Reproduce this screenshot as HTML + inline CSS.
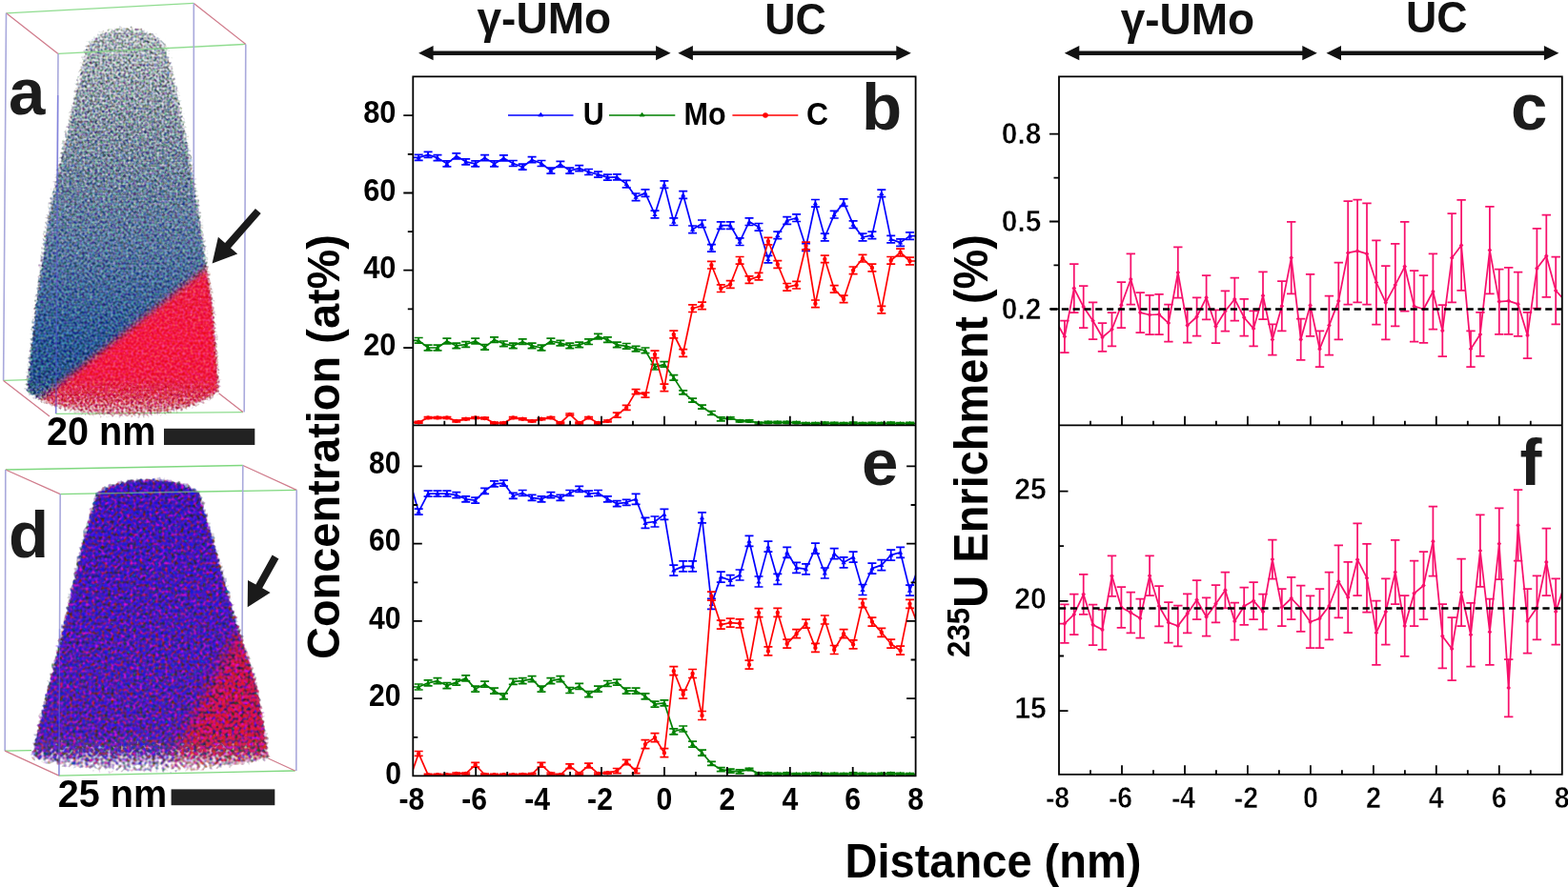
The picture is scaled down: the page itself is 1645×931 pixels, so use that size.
<!DOCTYPE html>
<html lang="en"><head><meta charset="utf-8"><title>Figure</title>
<style>
html,body{margin:0;padding:0;background:#fff;}
body{width:1645px;height:931px;overflow:hidden;}
svg{display:block;font-family:"Liberation Sans", Arial, Helvetica, sans-serif;font-weight:bold;}
</style></head><body>
<svg width="1645" height="931" viewBox="0 0 1645 931">
<rect width="1645" height="931" fill="#fff"/>
<defs>
<clipPath id="cb"><rect x="433.3" y="80.3" width="527.3" height="366.0"/></clipPath>
<clipPath id="ce"><rect x="433.3" y="446.3" width="527.3" height="368.09999999999997"/></clipPath>
<clipPath id="cc"><rect x="1111.0" y="80.3" width="527.8" height="366.0"/></clipPath>
<clipPath id="cf"><rect x="1111.0" y="446.3" width="527.8" height="366.49999999999994"/></clipPath>
</defs>

<defs>
<filter id="grainA" x="0" y="0" width="330" height="470" filterUnits="userSpaceOnUse" color-interpolation-filters="sRGB">
  <feTurbulence type="fractalNoise" baseFrequency="0.37" numOctaves="1" seed="7" result="n"/>
  <feColorMatrix in="n" type="matrix" values="1.155 0.945 0.000 0 -0.590  1.575 0.000 0.525 0 -0.590  1.260 0.000 -0.840 0 0.250  0 0 0 0 1" result="cn"/>
  <feBlend in="cn" in2="SourceGraphic" mode="soft-light" result="col"/>
  <feTurbulence type="fractalNoise" baseFrequency="0.4" numOctaves="1" seed="23" result="n2"/>
  <feColorMatrix in="n2" type="matrix" values="0 0 0 0 0  0 0 0 0 0  0 0 0 0 0  1 0 0 0 0" result="an"/>
  <feColorMatrix in="SourceGraphic" type="matrix" values="0 0 0 0 0  0 0 0 0 0  0 0 0 0 0  0 0 0 1 0" result="sa"/>
  <feComposite in="sa" in2="an" operator="arithmetic" k1="0" k2="1.9" k3="1.9" k4="-1.4" result="mask0"/>
  <feColorMatrix in="sa" type="matrix" values="0 0 0 0 0  0 0 0 0 0  0 0 0 0 0  0 0 0 6 0" result="sab"/>
  <feComposite in="mask0" in2="sab" operator="in" result="mask"/>
  <feComposite in="col" in2="mask" operator="in" result="out"/>
  <feGaussianBlur in="out" stdDeviation="0.6"/>
</filter>
<filter id="grainD" x="0" y="470" width="330" height="400" filterUnits="userSpaceOnUse" color-interpolation-filters="sRGB">
  <feTurbulence type="fractalNoise" baseFrequency="0.3" numOctaves="1" seed="11" result="n"/>
  <feColorMatrix in="n" type="matrix" values="0.000 1.250 -0.300 0 -0.015  0.000 -0.200 0.800 0 0.060  0.900 -0.350 -0.900 0 0.645  0 0 0 0 1" result="cn"/>
  <feBlend in="cn" in2="SourceGraphic" mode="hard-light" result="col"/>
  <feTurbulence type="fractalNoise" baseFrequency="0.3" numOctaves="1" seed="5" result="n2"/>
  <feColorMatrix in="n2" type="matrix" values="0 0 0 0 0  0 0 0 0 0  0 0 0 0 0  1 0 0 0 0" result="an"/>
  <feColorMatrix in="SourceGraphic" type="matrix" values="0 0 0 0 0  0 0 0 0 0  0 0 0 0 0  0 0 0 1 0" result="sa"/>
  <feComposite in="sa" in2="an" operator="arithmetic" k1="0" k2="2.2" k3="2.2" k4="-1.7000000000000002" result="mask0"/>
  <feColorMatrix in="sa" type="matrix" values="0 0 0 0 0  0 0 0 0 0  0 0 0 0 0  0 0 0 6 0" result="sab"/>
  <feComposite in="mask0" in2="sab" operator="in" result="mask"/>
  <feComposite in="col" in2="mask" operator="in" result="out"/>
  <feGaussianBlur in="out" stdDeviation="0.7"/>
</filter>
<filter id="soft" x="-20%" y="-20%" width="140%" height="140%"><feGaussianBlur stdDeviation="3.5"/></filter>
<filter id="soft2" x="-30%" y="-30%" width="160%" height="160%"><feGaussianBlur stdDeviation="7"/></filter>
<filter id="edge" x="-10%" y="-10%" width="120%" height="120%"><feGaussianBlur stdDeviation="2.2"/></filter>
<linearGradient id="gA" x1="0" y1="28" x2="0" y2="440" gradientUnits="userSpaceOnUse">
  <stop offset="0" stop-color="#8298a8"/>
  <stop offset="0.25" stop-color="#748ca6"/>
  <stop offset="0.55" stop-color="#587aa6"/>
  <stop offset="0.8" stop-color="#2f5e9a"/>
  <stop offset="1" stop-color="#24528c"/>
</linearGradient>
<linearGradient id="mgA" x1="0" y1="28" x2="0" y2="440" gradientUnits="userSpaceOnUse">
  <stop offset="0" stop-color="#fff" stop-opacity="0.56"/>
  <stop offset="0.25" stop-color="#fff" stop-opacity="0.72"/>
  <stop offset="0.55" stop-color="#fff" stop-opacity="0.90"/>
  <stop offset="0.80" stop-color="#fff" stop-opacity="1"/>
  <stop offset="0.89" stop-color="#fff" stop-opacity="0.98"/>
  <stop offset="0.95" stop-color="#fff" stop-opacity="0.74"/>
  <stop offset="1" stop-color="#fff" stop-opacity="0.45"/>
</linearGradient>
<linearGradient id="gD" x1="0" y1="503" x2="0" y2="810" gradientUnits="userSpaceOnUse">
  <stop offset="0" stop-color="#4420c4"/>
  <stop offset="0.5" stop-color="#5026c0"/>
  <stop offset="1" stop-color="#5a2cb8"/>
</linearGradient>
<linearGradient id="mgD" x1="0" y1="503" x2="0" y2="812" gradientUnits="userSpaceOnUse">
  <stop offset="0" stop-color="#fff" stop-opacity="1"/>
  <stop offset="0.86" stop-color="#fff" stop-opacity="1"/>
  <stop offset="0.93" stop-color="#fff" stop-opacity="0.7"/>
  <stop offset="1" stop-color="#fff" stop-opacity="0.3"/>
</linearGradient>
<mask id="mA" maskUnits="userSpaceOnUse" x="0" y="0" width="330" height="470"><path d="M27.5,411 C50,430 95,438.5 137,437.5 C180,436.5 215,426 230.3,410 L223.4,320 L209.7,228.7 L199,160 L187.3,103 L177,56 C173,38 152,28.4 132,28.4 C112,28.4 92,38 88,56 L77.3,103 L64.5,160 L49.8,228.7 L37,320 Z" fill="url(#mgA)" filter="url(#edge)"/></mask>
<mask id="mD" maskUnits="userSpaceOnUse" x="0" y="470" width="330" height="400"><path d="M31.9,796 C70,808 120,812 160,811.5 C210,811 255,805 283.5,796 L269,717 L247.5,650 L229,585 L210,518 C200,508 180,503 158,503 C135,503 112,508 101,518 L86,570 L68,650 Z" fill="url(#mgD)" filter="url(#edge)"/></mask>
</defs>
<g fill="none" stroke-width="1.3">
<path d="M6.5,13.8L203.3,3.4M61,56.4L257.8,46.4" stroke="#8fdc8f"/>
<path d="M6.5,13.8L61,56.4M203.3,3.4L257.8,46.4" stroke="#d07c8c"/>
<path d="M6.5,13.8L3.6,399.4M61,56.4L58.6,434.3M203.3,3.4L203.3,300M257.8,46.4L256.2,432.6" stroke="#a9a9dc" stroke-width="1.6"/>
<path d="M3.6,399.4L30,398.6M58.6,434.3L254.9,432.6" stroke="#8fdc8f"/>
<path d="M3.6,399.4L52,437M229.5,412.8L254.9,432.6" stroke="#d07c8c"/>
</g>
<g filter="url(#grainA)"><g mask="url(#mA)">
<rect x="0" y="0" width="330" height="470" fill="url(#gA)"/>
<path d="M236,265.8 L20,436.6 L20,470 L300,470 L300,265.8Z" fill="#f41c48" filter="url(#soft)"/>
</g></g>
<path d="M88,55L177,50.5" stroke="#8fdc8f" stroke-width="1.3" opacity="0.7" fill="none"/><path d="M203.3,105L203.3,230" stroke="#a9a9dc" stroke-width="1.4" opacity="0.4" fill="none"/><path d="M60.7,100L58.7,434" stroke="#5c5cdc" stroke-width="1.5" opacity="0.5" fill="none"/>
<path d="M267.9,218.9 L236.1,255.1 L228.9,248.8 L222.6,276.5 L249.2,266.6 L242.0,260.3 L273.7,224.1Z" fill="#1a1a1a"/>
<g fill="none" stroke-width="1.3">
<path d="M5.8,493L254.8,488.5M63.2,518.6L311.2,514.3" stroke="#7fd87f"/>
<path d="M5.8,493L63.2,518.6M254.8,488.5L311.2,514.3" stroke="#d07c8c"/>
<path d="M5.8,493L5.2,788.2M63.2,518.6L61.9,814.2M254.8,488.5L254,690M311.2,514.3L310.8,809" stroke="#a9a9dc" stroke-width="1.6"/>
<path d="M5.2,788.2L33,787.6M61.9,814.2L309.6,809" stroke="#7fd87f"/>
<path d="M5.2,788.2L61.9,814.2M281.3,796L309.6,809" stroke="#d07c8c"/>
</g>
<g filter="url(#grainD)"><g mask="url(#mD)">
<rect x="0" y="470" width="330" height="400" fill="url(#gD)"/>
<path d="M250,662 L178,800 L178,830 L320,830 L320,662Z" fill="#de1c4c" opacity="0.86" filter="url(#soft2)"/>
</g></g>
<path d="M101,518L210,516" stroke="#7fd87f" stroke-width="1.3" opacity="0.6" fill="none"/><path d="M62.6,660L61.9,814" stroke="#7070e0" stroke-width="1.5" opacity="0.45" fill="none"/>
<path d="M285.6,582.6 L268.4,613.5 L260.0,608.9 L259.7,637.3 L283.6,622.0 L275.2,617.3 L292.4,586.4Z" fill="#1a1a1a"/>
<g stroke="#008000" fill="none" stroke-width="1.7" stroke-linejoin="round" clip-path="url(#cb)">
<path d="M429.3,357.3 L439.2,357.3 L449.1,365.0 L459.0,365.0 L468.9,358.0 L478.8,362.9 L488.8,361.5 L498.7,358.0 L508.6,364.3 L518.5,356.6 L528.4,360.8 L538.3,362.9 L548.2,358.7 L558.1,362.9 L568.0,365.0 L577.9,358.0 L587.9,360.1 L597.8,362.9 L607.7,361.9 L617.6,358.7 L627.5,353.1 L637.4,356.6 L647.3,361.9 L657.2,363.3 L667.1,366.1 L677.0,367.8 L687.0,385.2 L696.9,382.4 L706.8,396.4 L716.7,411.8 L726.6,420.2 L736.5,427.2 L746.4,433.5 L756.3,439.8 L766.2,438.8 L776.1,441.9 L786.0,441.9 L796.0,444.0 L805.9,443.3 L815.8,443.3 L825.7,443.3 L835.6,443.5 L845.5,444.7 L855.4,444.7 L865.3,444.0 L875.2,444.4 L885.1,444.7 L895.1,444.1 L905.0,444.7 L914.9,444.4 L924.8,444.7 L934.7,444.2 L944.6,444.7 L954.5,444.4 L964.4,444.4"/>
<path d="M439.2,354.5V360.1M434.7,354.5h9.0M434.7,360.1h9.0M449.1,362.2V367.8M444.6,362.2h9.0M444.6,367.8h9.0M459.0,362.2V367.8M454.5,362.2h9.0M454.5,367.8h9.0M468.9,355.2V360.8M464.4,355.2h9.0M464.4,360.8h9.0M478.8,360.1V365.7M474.3,360.1h9.0M474.3,365.7h9.0M488.8,358.7V364.3M484.2,358.7h9.0M484.2,364.3h9.0M498.7,355.2V360.8M494.2,355.2h9.0M494.2,360.8h9.0M508.6,361.5V367.1M504.1,361.5h9.0M504.1,367.1h9.0M518.5,353.8V359.4M514.0,353.8h9.0M514.0,359.4h9.0M528.4,358.0V363.6M523.9,358.0h9.0M523.9,363.6h9.0M538.3,360.1V365.7M533.8,360.1h9.0M533.8,365.7h9.0M548.2,355.9V361.5M543.7,355.9h9.0M543.7,361.5h9.0M558.1,360.1V365.7M553.6,360.1h9.0M553.6,365.7h9.0M568.0,362.2V367.8M563.5,362.2h9.0M563.5,367.8h9.0M577.9,355.2V360.8M573.4,355.2h9.0M573.4,360.8h9.0M587.9,357.3V362.9M583.4,357.3h9.0M583.4,362.9h9.0M597.8,360.1V365.7M593.3,360.1h9.0M593.3,365.7h9.0M607.7,359.1V364.7M603.2,359.1h9.0M603.2,364.7h9.0M617.6,355.9V361.5M613.1,355.9h9.0M613.1,361.5h9.0M627.5,350.3V355.9M623.0,350.3h9.0M623.0,355.9h9.0M637.4,353.8V359.4M632.9,353.8h9.0M632.9,359.4h9.0M647.3,359.1V364.7M642.8,359.1h9.0M642.8,364.7h9.0M657.2,360.5V366.1M652.7,360.5h9.0M652.7,366.1h9.0M667.1,363.3V368.9M662.6,363.3h9.0M662.6,368.9h9.0M677.0,365.0V370.6M672.5,365.0h9.0M672.5,370.6h9.0M687.0,382.4V388.0M682.5,382.4h9.0M682.5,388.0h9.0M696.9,379.6V385.2M692.4,379.6h9.0M692.4,385.2h9.0M706.8,393.6V399.2M702.3,393.6h9.0M702.3,399.2h9.0M716.7,409.8V413.8M712.2,409.8h9.0M712.2,413.8h9.0M726.6,418.2V422.2M722.1,418.2h9.0M722.1,422.2h9.0M736.5,425.2V429.2M732.0,425.2h9.0M732.0,429.2h9.0M746.4,431.5V435.5M741.9,431.5h9.0M741.9,435.5h9.0M756.3,437.8V441.8M751.8,437.8h9.0M751.8,441.8h9.0M766.2,437.8V439.8M761.7,437.8h9.0M761.7,439.8h9.0M776.1,440.9V442.9M771.6,440.9h9.0M771.6,442.9h9.0M786.0,440.9V442.9M781.5,440.9h9.0M781.5,442.9h9.0M796.0,443.0V445.0M791.5,443.0h9.0M791.5,445.0h9.0M805.9,442.3V444.3M801.4,442.3h9.0M801.4,444.3h9.0M815.8,442.3V444.3M811.3,442.3h9.0M811.3,444.3h9.0M825.7,442.3V444.3M821.2,442.3h9.0M821.2,444.3h9.0M835.6,442.5V444.5M831.1,442.5h9.0M831.1,444.5h9.0M845.5,443.7V445.7M841.0,443.7h9.0M841.0,445.7h9.0M855.4,443.7V445.7M850.9,443.7h9.0M850.9,445.7h9.0M865.3,443.0V445.0M860.8,443.0h9.0M860.8,445.0h9.0M875.2,443.4V445.4M870.7,443.4h9.0M870.7,445.4h9.0M885.1,443.7V445.7M880.6,443.7h9.0M880.6,445.7h9.0M895.1,443.1V445.1M890.6,443.1h9.0M890.6,445.1h9.0M905.0,443.7V445.7M900.5,443.7h9.0M900.5,445.7h9.0M914.9,443.4V445.4M910.4,443.4h9.0M910.4,445.4h9.0M924.8,443.7V445.7M920.3,443.7h9.0M920.3,445.7h9.0M934.7,443.2V445.2M930.2,443.2h9.0M930.2,445.2h9.0M944.6,443.7V445.7M940.1,443.7h9.0M940.1,445.7h9.0M954.5,443.4V445.4M950.0,443.4h9.0M950.0,445.4h9.0"/>
<path d="M436.6,359.3L439.2,354.7L441.8,359.3ZM446.5,367.0L449.1,362.4L451.7,367.0ZM456.4,367.0L459.0,362.4L461.6,367.0ZM466.3,360.0L468.9,355.4L471.5,360.0ZM476.2,364.9L478.8,360.3L481.4,364.9ZM486.1,363.5L488.8,358.9L491.4,363.5ZM496.1,360.0L498.7,355.4L501.3,360.0ZM506.0,366.3L508.6,361.7L511.2,366.3ZM515.9,358.6L518.5,354.0L521.1,358.6ZM525.8,362.8L528.4,358.2L531.0,362.8ZM535.7,364.9L538.3,360.3L540.9,364.9ZM545.6,360.7L548.2,356.1L550.8,360.7ZM555.5,364.9L558.1,360.3L560.7,364.9ZM565.4,367.0L568.0,362.4L570.6,367.0ZM575.3,360.0L577.9,355.4L580.5,360.0ZM585.2,362.1L587.9,357.5L590.5,362.1ZM595.2,364.9L597.8,360.3L600.4,364.9ZM605.1,363.9L607.7,359.3L610.3,363.9ZM615.0,360.7L617.6,356.1L620.2,360.7ZM624.9,355.1L627.5,350.5L630.1,355.1ZM634.8,358.6L637.4,354.0L640.0,358.6ZM644.7,363.9L647.3,359.3L649.9,363.9ZM654.6,365.3L657.2,360.7L659.8,365.3ZM664.5,368.1L667.1,363.5L669.7,368.1ZM674.4,369.8L677.0,365.2L679.6,369.8ZM684.4,387.2L687.0,382.6L689.6,387.2ZM694.3,384.4L696.9,379.8L699.5,384.4ZM704.2,398.4L706.8,393.8L709.4,398.4ZM714.1,413.8L716.7,409.2L719.3,413.8ZM724.0,422.2L726.6,417.6L729.2,422.2ZM733.9,429.2L736.5,424.6L739.1,429.2ZM743.8,435.5L746.4,430.9L749.0,435.5ZM753.7,441.8L756.3,437.2L758.9,441.8ZM763.6,440.8L766.2,436.2L768.8,440.8ZM773.5,443.9L776.1,439.3L778.7,443.9ZM783.4,443.9L786.0,439.3L788.6,443.9ZM793.4,446.0L796.0,441.4L798.6,446.0ZM803.3,445.3L805.9,440.7L808.5,445.3ZM813.2,445.3L815.8,440.7L818.4,445.3ZM823.1,445.3L825.7,440.7L828.3,445.3ZM833.0,445.5L835.6,440.9L838.2,445.5ZM842.9,446.7L845.5,442.1L848.1,446.7ZM852.8,446.7L855.4,442.1L858.0,446.7ZM862.7,446.0L865.3,441.4L867.9,446.0ZM872.6,446.4L875.2,441.8L877.8,446.4ZM882.5,446.7L885.1,442.1L887.8,446.7ZM892.5,446.1L895.1,441.5L897.7,446.1ZM902.4,446.7L905.0,442.1L907.6,446.7ZM912.3,446.4L914.9,441.8L917.5,446.4ZM922.2,446.7L924.8,442.1L927.4,446.7ZM932.1,446.2L934.7,441.6L937.3,446.2ZM942.0,446.7L944.6,442.1L947.2,446.7ZM951.9,446.4L954.5,441.8L957.1,446.4Z" fill="#008000" stroke="none"/>
</g>
<g stroke="#0000ff" fill="none" stroke-width="1.7" stroke-linejoin="round" clip-path="url(#cb)">
<path d="M429.3,165.4 L439.2,165.4 L449.1,162.4 L459.0,165.6 L468.9,171.9 L478.8,163.8 L488.8,169.8 L498.7,171.9 L508.6,165.6 L518.5,171.9 L528.4,165.9 L538.3,171.5 L548.2,175.2 L558.1,167.7 L568.0,171.5 L577.9,179.1 L587.9,172.4 L597.8,179.1 L607.7,176.6 L617.6,180.5 L627.5,183.1 L637.4,186.1 L647.3,185.9 L657.2,193.1 L667.1,206.8 L677.0,202.6 L687.0,225.0 L696.9,193.6 L706.8,232.7 L716.7,204.5 L726.6,240.8 L736.5,234.8 L746.4,260.4 L756.3,236.6 L766.2,236.6 L776.1,253.7 L786.0,232.7 L796.0,238.3 L805.9,272.1 L815.8,246.9 L825.7,231.5 L835.6,228.7 L845.5,259.5 L855.4,213.3 L865.3,249.0 L875.2,225.2 L885.1,212.6 L895.1,235.7 L905.0,249.0 L914.9,246.9 L924.8,202.9 L934.7,251.1 L944.6,254.6 L954.5,247.6 L964.4,247.6"/>
<path d="M439.2,162.4V168.4M434.7,162.4h9.0M434.7,168.4h9.0M449.1,159.4V165.4M444.6,159.4h9.0M444.6,165.4h9.0M459.0,162.6V168.6M454.5,162.6h9.0M454.5,168.6h9.0M468.9,168.9V174.9M464.4,168.9h9.0M464.4,174.9h9.0M478.8,160.8V166.8M474.3,160.8h9.0M474.3,166.8h9.0M488.8,166.8V172.8M484.2,166.8h9.0M484.2,172.8h9.0M498.7,168.9V174.9M494.2,168.9h9.0M494.2,174.9h9.0M508.6,162.6V168.6M504.1,162.6h9.0M504.1,168.6h9.0M518.5,168.9V174.9M514.0,168.9h9.0M514.0,174.9h9.0M528.4,162.9V168.9M523.9,162.9h9.0M523.9,168.9h9.0M538.3,168.5V174.5M533.8,168.5h9.0M533.8,174.5h9.0M548.2,172.2V178.2M543.7,172.2h9.0M543.7,178.2h9.0M558.1,164.7V170.7M553.6,164.7h9.0M553.6,170.7h9.0M568.0,168.5V174.5M563.5,168.5h9.0M563.5,174.5h9.0M577.9,176.1V182.1M573.4,176.1h9.0M573.4,182.1h9.0M587.9,169.4V175.4M583.4,169.4h9.0M583.4,175.4h9.0M597.8,176.1V182.1M593.3,176.1h9.0M593.3,182.1h9.0M607.7,173.6V179.6M603.2,173.6h9.0M603.2,179.6h9.0M617.6,177.5V183.5M613.1,177.5h9.0M613.1,183.5h9.0M627.5,180.1V186.1M623.0,180.1h9.0M623.0,186.1h9.0M637.4,183.1V189.1M632.9,183.1h9.0M632.9,189.1h9.0M647.3,182.9V188.9M642.8,182.9h9.0M642.8,188.9h9.0M657.2,189.3V196.9M652.7,189.3h9.0M652.7,196.9h9.0M667.1,203.0V210.6M662.6,203.0h9.0M662.6,210.6h9.0M677.0,198.8V206.4M672.5,198.8h9.0M672.5,206.4h9.0M687.0,221.2V228.8M682.5,221.2h9.0M682.5,228.8h9.0M696.9,189.8V197.4M692.4,189.8h9.0M692.4,197.4h9.0M706.8,228.9V236.5M702.3,228.9h9.0M702.3,236.5h9.0M716.7,200.7V208.3M712.2,200.7h9.0M712.2,208.3h9.0M726.6,237.0V244.6M722.1,237.0h9.0M722.1,244.6h9.0M736.5,231.0V238.6M732.0,231.0h9.0M732.0,238.6h9.0M746.4,256.6V264.2M741.9,256.6h9.0M741.9,264.2h9.0M756.3,232.8V240.4M751.8,232.8h9.0M751.8,240.4h9.0M766.2,232.8V240.4M761.7,232.8h9.0M761.7,240.4h9.0M776.1,249.9V257.5M771.6,249.9h9.0M771.6,257.5h9.0M786.0,228.9V236.5M781.5,228.9h9.0M781.5,236.5h9.0M796.0,234.5V242.1M791.5,234.5h9.0M791.5,242.1h9.0M805.9,268.3V275.9M801.4,268.3h9.0M801.4,275.9h9.0M815.8,243.1V250.7M811.3,243.1h9.0M811.3,250.7h9.0M825.7,227.7V235.3M821.2,227.7h9.0M821.2,235.3h9.0M835.6,224.9V232.5M831.1,224.9h9.0M831.1,232.5h9.0M845.5,255.7V263.3M841.0,255.7h9.0M841.0,263.3h9.0M855.4,209.5V217.1M850.9,209.5h9.0M850.9,217.1h9.0M865.3,245.2V252.8M860.8,245.2h9.0M860.8,252.8h9.0M875.2,221.4V229.0M870.7,221.4h9.0M870.7,229.0h9.0M885.1,208.8V216.4M880.6,208.8h9.0M880.6,216.4h9.0M895.1,231.9V239.5M890.6,231.9h9.0M890.6,239.5h9.0M905.0,245.2V252.8M900.5,245.2h9.0M900.5,252.8h9.0M914.9,243.1V250.7M910.4,243.1h9.0M910.4,250.7h9.0M924.8,199.1V206.7M920.3,199.1h9.0M920.3,206.7h9.0M934.7,247.3V254.9M930.2,247.3h9.0M930.2,254.9h9.0M944.6,250.8V258.4M940.1,250.8h9.0M940.1,258.4h9.0M954.5,243.8V251.4M950.0,243.8h9.0M950.0,251.4h9.0"/>
<path d="M436.6,167.4L439.2,162.8L441.8,167.4ZM446.5,164.4L449.1,159.8L451.7,164.4ZM456.4,167.6L459.0,163.0L461.6,167.6ZM466.3,173.9L468.9,169.3L471.5,173.9ZM476.2,165.8L478.8,161.2L481.4,165.8ZM486.1,171.8L488.8,167.2L491.4,171.8ZM496.1,173.9L498.7,169.3L501.3,173.9ZM506.0,167.6L508.6,163.0L511.2,167.6ZM515.9,173.9L518.5,169.3L521.1,173.9ZM525.8,167.9L528.4,163.3L531.0,167.9ZM535.7,173.5L538.3,168.9L540.9,173.5ZM545.6,177.2L548.2,172.6L550.8,177.2ZM555.5,169.7L558.1,165.1L560.7,169.7ZM565.4,173.5L568.0,168.9L570.6,173.5ZM575.3,181.1L577.9,176.5L580.5,181.1ZM585.2,174.4L587.9,169.8L590.5,174.4ZM595.2,181.1L597.8,176.5L600.4,181.1ZM605.1,178.6L607.7,174.0L610.3,178.6ZM615.0,182.5L617.6,177.9L620.2,182.5ZM624.9,185.1L627.5,180.5L630.1,185.1ZM634.8,188.1L637.4,183.5L640.0,188.1ZM644.7,187.9L647.3,183.3L649.9,187.9ZM654.6,195.1L657.2,190.5L659.8,195.1ZM664.5,208.8L667.1,204.2L669.7,208.8ZM674.4,204.6L677.0,200.0L679.6,204.6ZM684.4,227.0L687.0,222.4L689.6,227.0ZM694.3,195.6L696.9,191.0L699.5,195.6ZM704.2,234.7L706.8,230.1L709.4,234.7ZM714.1,206.5L716.7,201.9L719.3,206.5ZM724.0,242.8L726.6,238.2L729.2,242.8ZM733.9,236.8L736.5,232.2L739.1,236.8ZM743.8,262.4L746.4,257.8L749.0,262.4ZM753.7,238.6L756.3,234.0L758.9,238.6ZM763.6,238.6L766.2,234.0L768.8,238.6ZM773.5,255.7L776.1,251.1L778.7,255.7ZM783.4,234.7L786.0,230.1L788.6,234.7ZM793.4,240.3L796.0,235.7L798.6,240.3ZM803.3,274.1L805.9,269.5L808.5,274.1ZM813.2,248.9L815.8,244.3L818.4,248.9ZM823.1,233.5L825.7,228.9L828.3,233.5ZM833.0,230.7L835.6,226.1L838.2,230.7ZM842.9,261.5L845.5,256.9L848.1,261.5ZM852.8,215.3L855.4,210.7L858.0,215.3ZM862.7,251.0L865.3,246.4L867.9,251.0ZM872.6,227.2L875.2,222.6L877.8,227.2ZM882.5,214.6L885.1,210.0L887.8,214.6ZM892.5,237.7L895.1,233.1L897.7,237.7ZM902.4,251.0L905.0,246.4L907.6,251.0ZM912.3,248.9L914.9,244.3L917.5,248.9ZM922.2,204.9L924.8,200.3L927.4,204.9ZM932.1,253.1L934.7,248.5L937.3,253.1ZM942.0,256.6L944.6,252.0L947.2,256.6ZM951.9,249.6L954.5,245.0L957.1,249.6Z" fill="#0000ff" stroke="none"/>
</g>
<g stroke="#ff0000" fill="none" stroke-width="1.7" stroke-linejoin="round" clip-path="url(#cb)">
<path d="M429.3,443.3 L439.2,443.3 L449.1,438.4 L459.0,438.4 L468.9,438.4 L478.8,441.9 L488.8,439.8 L498.7,438.4 L508.6,439.1 L518.5,444.0 L528.4,444.0 L538.3,438.4 L548.2,439.8 L558.1,441.9 L568.0,439.8 L577.9,438.4 L587.9,444.0 L597.8,434.9 L607.7,444.0 L617.6,438.4 L627.5,444.0 L637.4,441.9 L647.3,435.6 L657.2,427.9 L667.1,411.1 L677.0,414.6 L687.0,371.9 L696.9,406.9 L706.8,351.0 L716.7,370.5 L726.6,323.7 L736.5,320.9 L746.4,278.2 L756.3,302.7 L766.2,298.5 L776.1,273.3 L786.0,293.6 L796.0,290.1 L805.9,253.1 L815.8,277.5 L825.7,301.3 L835.6,299.2 L845.5,258.0 L855.4,318.8 L865.3,271.9 L875.2,303.4 L885.1,313.9 L895.1,283.8 L905.0,271.2 L914.9,281.0 L924.8,325.1 L934.7,273.3 L944.6,265.0 L954.5,274.0 L964.4,274.0"/>
<path d="M439.2,442.4V444.2M434.7,442.4h9.0M434.7,444.2h9.0M449.1,437.5V439.3M444.6,437.5h9.0M444.6,439.3h9.0M459.0,437.5V439.3M454.5,437.5h9.0M454.5,439.3h9.0M468.9,437.5V439.3M464.4,437.5h9.0M464.4,439.3h9.0M478.8,441.0V442.8M474.3,441.0h9.0M474.3,442.8h9.0M488.8,438.9V440.7M484.2,438.9h9.0M484.2,440.7h9.0M498.7,437.5V439.3M494.2,437.5h9.0M494.2,439.3h9.0M508.6,438.2V440.0M504.1,438.2h9.0M504.1,440.0h9.0M518.5,443.1V444.9M514.0,443.1h9.0M514.0,444.9h9.0M528.4,443.1V444.9M523.9,443.1h9.0M523.9,444.9h9.0M538.3,437.5V439.3M533.8,437.5h9.0M533.8,439.3h9.0M548.2,438.9V440.7M543.7,438.9h9.0M543.7,440.7h9.0M558.1,441.0V442.8M553.6,441.0h9.0M553.6,442.8h9.0M568.0,438.9V440.7M563.5,438.9h9.0M563.5,440.7h9.0M577.9,437.5V439.3M573.4,437.5h9.0M573.4,439.3h9.0M587.9,443.1V444.9M583.4,443.1h9.0M583.4,444.9h9.0M597.8,434.0V435.8M593.3,434.0h9.0M593.3,435.8h9.0M607.7,443.1V444.9M603.2,443.1h9.0M603.2,444.9h9.0M617.6,437.5V439.3M613.1,437.5h9.0M613.1,439.3h9.0M627.5,443.1V444.9M623.0,443.1h9.0M623.0,444.9h9.0M637.4,441.0V442.8M632.9,441.0h9.0M632.9,442.8h9.0M647.3,433.1V438.1M642.8,433.1h9.0M642.8,438.1h9.0M657.2,425.4V430.4M652.7,425.4h9.0M652.7,430.4h9.0M667.1,408.6V413.6M662.6,408.6h9.0M662.6,413.6h9.0M677.0,412.1V417.1M672.5,412.1h9.0M672.5,417.1h9.0M687.0,368.1V375.7M682.5,368.1h9.0M682.5,375.7h9.0M696.9,403.1V410.7M692.4,403.1h9.0M692.4,410.7h9.0M706.8,347.2V354.8M702.3,347.2h9.0M702.3,354.8h9.0M716.7,366.7V374.3M712.2,366.7h9.0M712.2,374.3h9.0M726.6,319.9V327.5M722.1,319.9h9.0M722.1,327.5h9.0M736.5,317.1V324.7M732.0,317.1h9.0M732.0,324.7h9.0M746.4,274.4V282.0M741.9,274.4h9.0M741.9,282.0h9.0M756.3,298.9V306.5M751.8,298.9h9.0M751.8,306.5h9.0M766.2,294.7V302.3M761.7,294.7h9.0M761.7,302.3h9.0M776.1,269.5V277.1M771.6,269.5h9.0M771.6,277.1h9.0M786.0,289.8V297.4M781.5,289.8h9.0M781.5,297.4h9.0M796.0,286.3V293.9M791.5,286.3h9.0M791.5,293.9h9.0M805.9,249.3V256.9M801.4,249.3h9.0M801.4,256.9h9.0M815.8,273.7V281.3M811.3,273.7h9.0M811.3,281.3h9.0M825.7,297.5V305.1M821.2,297.5h9.0M821.2,305.1h9.0M835.6,295.4V303.0M831.1,295.4h9.0M831.1,303.0h9.0M845.5,254.2V261.8M841.0,254.2h9.0M841.0,261.8h9.0M855.4,315.0V322.6M850.9,315.0h9.0M850.9,322.6h9.0M865.3,268.1V275.7M860.8,268.1h9.0M860.8,275.7h9.0M875.2,299.6V307.2M870.7,299.6h9.0M870.7,307.2h9.0M885.1,310.1V317.7M880.6,310.1h9.0M880.6,317.7h9.0M895.1,280.0V287.6M890.6,280.0h9.0M890.6,287.6h9.0M905.0,267.4V275.0M900.5,267.4h9.0M900.5,275.0h9.0M914.9,277.2V284.8M910.4,277.2h9.0M910.4,284.8h9.0M924.8,321.3V328.9M920.3,321.3h9.0M920.3,328.9h9.0M934.7,269.5V277.1M930.2,269.5h9.0M930.2,277.1h9.0M944.6,261.2V268.8M940.1,261.2h9.0M940.1,268.8h9.0M954.5,270.2V277.8M950.0,270.2h9.0M950.0,277.8h9.0"/>
<path d="M437.0,443.3a2.2,2.2 0 1,0 4.4,0a2.2,2.2 0 1,0 -4.4,0ZM446.9,438.4a2.2,2.2 0 1,0 4.4,0a2.2,2.2 0 1,0 -4.4,0ZM456.8,438.4a2.2,2.2 0 1,0 4.4,0a2.2,2.2 0 1,0 -4.4,0ZM466.7,438.4a2.2,2.2 0 1,0 4.4,0a2.2,2.2 0 1,0 -4.4,0ZM476.6,441.9a2.2,2.2 0 1,0 4.4,0a2.2,2.2 0 1,0 -4.4,0ZM486.6,439.8a2.2,2.2 0 1,0 4.4,0a2.2,2.2 0 1,0 -4.4,0ZM496.5,438.4a2.2,2.2 0 1,0 4.4,0a2.2,2.2 0 1,0 -4.4,0ZM506.4,439.1a2.2,2.2 0 1,0 4.4,0a2.2,2.2 0 1,0 -4.4,0ZM516.3,444.0a2.2,2.2 0 1,0 4.4,0a2.2,2.2 0 1,0 -4.4,0ZM526.2,444.0a2.2,2.2 0 1,0 4.4,0a2.2,2.2 0 1,0 -4.4,0ZM536.1,438.4a2.2,2.2 0 1,0 4.4,0a2.2,2.2 0 1,0 -4.4,0ZM546.0,439.8a2.2,2.2 0 1,0 4.4,0a2.2,2.2 0 1,0 -4.4,0ZM555.9,441.9a2.2,2.2 0 1,0 4.4,0a2.2,2.2 0 1,0 -4.4,0ZM565.8,439.8a2.2,2.2 0 1,0 4.4,0a2.2,2.2 0 1,0 -4.4,0ZM575.7,438.4a2.2,2.2 0 1,0 4.4,0a2.2,2.2 0 1,0 -4.4,0ZM585.6,444.0a2.2,2.2 0 1,0 4.4,0a2.2,2.2 0 1,0 -4.4,0ZM595.6,434.9a2.2,2.2 0 1,0 4.4,0a2.2,2.2 0 1,0 -4.4,0ZM605.5,444.0a2.2,2.2 0 1,0 4.4,0a2.2,2.2 0 1,0 -4.4,0ZM615.4,438.4a2.2,2.2 0 1,0 4.4,0a2.2,2.2 0 1,0 -4.4,0ZM625.3,444.0a2.2,2.2 0 1,0 4.4,0a2.2,2.2 0 1,0 -4.4,0ZM635.2,441.9a2.2,2.2 0 1,0 4.4,0a2.2,2.2 0 1,0 -4.4,0ZM645.1,435.6a2.2,2.2 0 1,0 4.4,0a2.2,2.2 0 1,0 -4.4,0ZM655.0,427.9a2.2,2.2 0 1,0 4.4,0a2.2,2.2 0 1,0 -4.4,0ZM664.9,411.1a2.2,2.2 0 1,0 4.4,0a2.2,2.2 0 1,0 -4.4,0ZM674.8,414.6a2.2,2.2 0 1,0 4.4,0a2.2,2.2 0 1,0 -4.4,0ZM684.8,371.9a2.2,2.2 0 1,0 4.4,0a2.2,2.2 0 1,0 -4.4,0ZM694.7,406.9a2.2,2.2 0 1,0 4.4,0a2.2,2.2 0 1,0 -4.4,0ZM704.6,351.0a2.2,2.2 0 1,0 4.4,0a2.2,2.2 0 1,0 -4.4,0ZM714.5,370.5a2.2,2.2 0 1,0 4.4,0a2.2,2.2 0 1,0 -4.4,0ZM724.4,323.7a2.2,2.2 0 1,0 4.4,0a2.2,2.2 0 1,0 -4.4,0ZM734.3,320.9a2.2,2.2 0 1,0 4.4,0a2.2,2.2 0 1,0 -4.4,0ZM744.2,278.2a2.2,2.2 0 1,0 4.4,0a2.2,2.2 0 1,0 -4.4,0ZM754.1,302.7a2.2,2.2 0 1,0 4.4,0a2.2,2.2 0 1,0 -4.4,0ZM764.0,298.5a2.2,2.2 0 1,0 4.4,0a2.2,2.2 0 1,0 -4.4,0ZM773.9,273.3a2.2,2.2 0 1,0 4.4,0a2.2,2.2 0 1,0 -4.4,0ZM783.8,293.6a2.2,2.2 0 1,0 4.4,0a2.2,2.2 0 1,0 -4.4,0ZM793.8,290.1a2.2,2.2 0 1,0 4.4,0a2.2,2.2 0 1,0 -4.4,0ZM803.7,253.1a2.2,2.2 0 1,0 4.4,0a2.2,2.2 0 1,0 -4.4,0ZM813.6,277.5a2.2,2.2 0 1,0 4.4,0a2.2,2.2 0 1,0 -4.4,0ZM823.5,301.3a2.2,2.2 0 1,0 4.4,0a2.2,2.2 0 1,0 -4.4,0ZM833.4,299.2a2.2,2.2 0 1,0 4.4,0a2.2,2.2 0 1,0 -4.4,0ZM843.3,258.0a2.2,2.2 0 1,0 4.4,0a2.2,2.2 0 1,0 -4.4,0ZM853.2,318.8a2.2,2.2 0 1,0 4.4,0a2.2,2.2 0 1,0 -4.4,0ZM863.1,271.9a2.2,2.2 0 1,0 4.4,0a2.2,2.2 0 1,0 -4.4,0ZM873.0,303.4a2.2,2.2 0 1,0 4.4,0a2.2,2.2 0 1,0 -4.4,0ZM882.9,313.9a2.2,2.2 0 1,0 4.4,0a2.2,2.2 0 1,0 -4.4,0ZM892.9,283.8a2.2,2.2 0 1,0 4.4,0a2.2,2.2 0 1,0 -4.4,0ZM902.8,271.2a2.2,2.2 0 1,0 4.4,0a2.2,2.2 0 1,0 -4.4,0ZM912.7,281.0a2.2,2.2 0 1,0 4.4,0a2.2,2.2 0 1,0 -4.4,0ZM922.6,325.1a2.2,2.2 0 1,0 4.4,0a2.2,2.2 0 1,0 -4.4,0ZM932.5,273.3a2.2,2.2 0 1,0 4.4,0a2.2,2.2 0 1,0 -4.4,0ZM942.4,265.0a2.2,2.2 0 1,0 4.4,0a2.2,2.2 0 1,0 -4.4,0ZM952.3,274.0a2.2,2.2 0 1,0 4.4,0a2.2,2.2 0 1,0 -4.4,0Z" fill="#ff0000" stroke="none"/>
</g>
<g stroke="#008000" fill="none" stroke-width="1.7" stroke-linejoin="round" clip-path="url(#ce)">
<path d="M429.3,721.0 L439.2,721.0 L449.1,716.8 L459.0,714.7 L468.9,719.6 L478.8,716.1 L488.8,711.9 L498.7,723.1 L508.6,718.2 L518.5,725.2 L528.4,730.8 L538.3,715.4 L548.2,714.7 L558.1,712.6 L568.0,723.1 L577.9,714.7 L587.9,712.6 L597.8,724.5 L607.7,720.3 L617.6,728.7 L627.5,723.1 L637.4,717.5 L647.3,716.1 L657.2,725.2 L667.1,725.2 L677.0,730.8 L687.0,739.1 L696.9,737.8 L706.8,767.8 L716.7,765.0 L726.6,781.1 L736.5,790.2 L746.4,801.4 L756.3,807.7 L766.2,809.1 L776.1,809.8 L786.0,807.4 L796.0,811.9 L805.9,811.9 L815.8,812.3 L825.7,811.9 L835.6,812.6 L845.5,812.3 L855.4,811.9 L865.3,812.6 L875.2,812.3 L885.1,812.6 L895.1,811.9 L905.0,812.3 L914.9,812.6 L924.8,812.3 L934.7,811.9 L944.6,812.3 L954.5,812.6 L964.4,812.6"/>
<path d="M439.2,718.0V724.0M434.7,718.0h9.0M434.7,724.0h9.0M449.1,713.8V719.8M444.6,713.8h9.0M444.6,719.8h9.0M459.0,711.7V717.7M454.5,711.7h9.0M454.5,717.7h9.0M468.9,716.6V722.6M464.4,716.6h9.0M464.4,722.6h9.0M478.8,713.1V719.1M474.3,713.1h9.0M474.3,719.1h9.0M488.8,708.9V714.9M484.2,708.9h9.0M484.2,714.9h9.0M498.7,720.1V726.1M494.2,720.1h9.0M494.2,726.1h9.0M508.6,715.2V721.2M504.1,715.2h9.0M504.1,721.2h9.0M518.5,722.2V728.2M514.0,722.2h9.0M514.0,728.2h9.0M528.4,727.8V733.8M523.9,727.8h9.0M523.9,733.8h9.0M538.3,712.4V718.4M533.8,712.4h9.0M533.8,718.4h9.0M548.2,711.7V717.7M543.7,711.7h9.0M543.7,717.7h9.0M558.1,709.6V715.6M553.6,709.6h9.0M553.6,715.6h9.0M568.0,720.1V726.1M563.5,720.1h9.0M563.5,726.1h9.0M577.9,711.7V717.7M573.4,711.7h9.0M573.4,717.7h9.0M587.9,709.6V715.6M583.4,709.6h9.0M583.4,715.6h9.0M597.8,721.5V727.5M593.3,721.5h9.0M593.3,727.5h9.0M607.7,717.3V723.3M603.2,717.3h9.0M603.2,723.3h9.0M617.6,725.7V731.7M613.1,725.7h9.0M613.1,731.7h9.0M627.5,720.1V726.1M623.0,720.1h9.0M623.0,726.1h9.0M637.4,714.5V720.5M632.9,714.5h9.0M632.9,720.5h9.0M647.3,713.1V719.1M642.8,713.1h9.0M642.8,719.1h9.0M657.2,722.2V728.2M652.7,722.2h9.0M652.7,728.2h9.0M667.1,722.2V728.2M662.6,722.2h9.0M662.6,728.2h9.0M677.0,727.8V733.8M672.5,727.8h9.0M672.5,733.8h9.0M687.0,736.1V742.1M682.5,736.1h9.0M682.5,742.1h9.0M696.9,734.8V740.8M692.4,734.8h9.0M692.4,740.8h9.0M706.8,764.8V770.8M702.3,764.8h9.0M702.3,770.8h9.0M716.7,762.0V768.0M712.2,762.0h9.0M712.2,768.0h9.0M726.6,778.1V784.1M722.1,778.1h9.0M722.1,784.1h9.0M736.5,787.2V793.2M732.0,787.2h9.0M732.0,793.2h9.0M746.4,799.4V803.4M741.9,799.4h9.0M741.9,803.4h9.0M756.3,805.7V809.7M751.8,805.7h9.0M751.8,809.7h9.0M766.2,807.1V811.1M761.7,807.1h9.0M761.7,811.1h9.0M776.1,807.8V811.8M771.6,807.8h9.0M771.6,811.8h9.0M786.0,806.4V808.4M781.5,806.4h9.0M781.5,808.4h9.0M796.0,810.9V812.9M791.5,810.9h9.0M791.5,812.9h9.0M805.9,810.9V812.9M801.4,810.9h9.0M801.4,812.9h9.0M815.8,811.3V813.3M811.3,811.3h9.0M811.3,813.3h9.0M825.7,810.9V812.9M821.2,810.9h9.0M821.2,812.9h9.0M835.6,811.6V813.6M831.1,811.6h9.0M831.1,813.6h9.0M845.5,811.3V813.3M841.0,811.3h9.0M841.0,813.3h9.0M855.4,810.9V812.9M850.9,810.9h9.0M850.9,812.9h9.0M865.3,811.6V813.6M860.8,811.6h9.0M860.8,813.6h9.0M875.2,811.3V813.3M870.7,811.3h9.0M870.7,813.3h9.0M885.1,811.6V813.6M880.6,811.6h9.0M880.6,813.6h9.0M895.1,810.9V812.9M890.6,810.9h9.0M890.6,812.9h9.0M905.0,811.3V813.3M900.5,811.3h9.0M900.5,813.3h9.0M914.9,811.6V813.6M910.4,811.6h9.0M910.4,813.6h9.0M924.8,811.3V813.3M920.3,811.3h9.0M920.3,813.3h9.0M934.7,810.9V812.9M930.2,810.9h9.0M930.2,812.9h9.0M944.6,811.3V813.3M940.1,811.3h9.0M940.1,813.3h9.0M954.5,811.6V813.6M950.0,811.6h9.0M950.0,813.6h9.0"/>
<path d="M436.6,723.0L439.2,718.4L441.8,723.0ZM446.5,718.8L449.1,714.2L451.7,718.8ZM456.4,716.7L459.0,712.1L461.6,716.7ZM466.3,721.6L468.9,717.0L471.5,721.6ZM476.2,718.1L478.8,713.5L481.4,718.1ZM486.1,713.9L488.8,709.3L491.4,713.9ZM496.1,725.1L498.7,720.5L501.3,725.1ZM506.0,720.2L508.6,715.6L511.2,720.2ZM515.9,727.2L518.5,722.6L521.1,727.2ZM525.8,732.8L528.4,728.2L531.0,732.8ZM535.7,717.4L538.3,712.8L540.9,717.4ZM545.6,716.7L548.2,712.1L550.8,716.7ZM555.5,714.6L558.1,710.0L560.7,714.6ZM565.4,725.1L568.0,720.5L570.6,725.1ZM575.3,716.7L577.9,712.1L580.5,716.7ZM585.2,714.6L587.9,710.0L590.5,714.6ZM595.2,726.5L597.8,721.9L600.4,726.5ZM605.1,722.3L607.7,717.7L610.3,722.3ZM615.0,730.7L617.6,726.1L620.2,730.7ZM624.9,725.1L627.5,720.5L630.1,725.1ZM634.8,719.5L637.4,714.9L640.0,719.5ZM644.7,718.1L647.3,713.5L649.9,718.1ZM654.6,727.2L657.2,722.6L659.8,727.2ZM664.5,727.2L667.1,722.6L669.7,727.2ZM674.4,732.8L677.0,728.2L679.6,732.8ZM684.4,741.1L687.0,736.5L689.6,741.1ZM694.3,739.8L696.9,735.2L699.5,739.8ZM704.2,769.8L706.8,765.2L709.4,769.8ZM714.1,767.0L716.7,762.4L719.3,767.0ZM724.0,783.1L726.6,778.5L729.2,783.1ZM733.9,792.2L736.5,787.6L739.1,792.2ZM743.8,803.4L746.4,798.8L749.0,803.4ZM753.7,809.7L756.3,805.1L758.9,809.7ZM763.6,811.1L766.2,806.5L768.8,811.1ZM773.5,811.8L776.1,807.2L778.7,811.8ZM783.4,809.4L786.0,804.8L788.6,809.4ZM793.4,813.9L796.0,809.3L798.6,813.9ZM803.3,813.9L805.9,809.3L808.5,813.9ZM813.2,814.3L815.8,809.7L818.4,814.3ZM823.1,813.9L825.7,809.3L828.3,813.9ZM833.0,814.6L835.6,810.0L838.2,814.6ZM842.9,814.3L845.5,809.7L848.1,814.3ZM852.8,813.9L855.4,809.3L858.0,813.9ZM862.7,814.6L865.3,810.0L867.9,814.6ZM872.6,814.3L875.2,809.7L877.8,814.3ZM882.5,814.6L885.1,810.0L887.8,814.6ZM892.5,813.9L895.1,809.3L897.7,813.9ZM902.4,814.3L905.0,809.7L907.6,814.3ZM912.3,814.6L914.9,810.0L917.5,814.6ZM922.2,814.3L924.8,809.7L927.4,814.3ZM932.1,813.9L934.7,809.3L937.3,813.9ZM942.0,814.3L944.6,809.7L947.2,814.3ZM951.9,814.6L954.5,810.0L957.1,814.6Z" fill="#008000" stroke="none"/>
</g>
<g stroke="#0000ff" fill="none" stroke-width="1.7" stroke-linejoin="round" clip-path="url(#ce)">
<path d="M429.3,503.0 L439.2,537.1 L449.1,518.2 L459.0,518.2 L468.9,518.2 L478.8,519.6 L488.8,523.8 L498.7,525.2 L508.6,515.4 L518.5,507.8 L528.4,507.1 L538.3,520.3 L548.2,517.5 L558.1,522.4 L568.0,523.8 L577.9,519.6 L587.9,522.4 L597.8,517.5 L607.7,513.3 L617.6,518.2 L627.5,517.5 L637.4,523.8 L647.3,528.7 L657.2,527.3 L667.1,523.8 L677.0,548.9 L687.0,547.5 L696.9,539.8 L706.8,598.6 L716.7,594.4 L726.6,594.4 L736.5,543.3 L746.4,633.9 L756.3,605.6 L766.2,609.1 L776.1,603.5 L786.0,567.8 L796.0,610.5 L805.9,573.6 L815.8,607.8 L825.7,579.8 L835.6,595.9 L845.5,597.3 L855.4,575.7 L865.3,601.5 L875.2,581.2 L885.1,590.3 L895.1,584.7 L905.0,619.0 L914.9,596.6 L924.8,593.1 L934.7,582.6 L944.6,579.8 L954.5,619.7 L964.4,594.0"/>
<path d="M439.2,534.1V540.1M434.7,534.1h9.0M434.7,540.1h9.0M449.1,515.2V521.2M444.6,515.2h9.0M444.6,521.2h9.0M459.0,515.2V521.2M454.5,515.2h9.0M454.5,521.2h9.0M468.9,515.2V521.2M464.4,515.2h9.0M464.4,521.2h9.0M478.8,516.6V522.6M474.3,516.6h9.0M474.3,522.6h9.0M488.8,520.8V526.8M484.2,520.8h9.0M484.2,526.8h9.0M498.7,522.2V528.2M494.2,522.2h9.0M494.2,528.2h9.0M508.6,512.4V518.4M504.1,512.4h9.0M504.1,518.4h9.0M518.5,504.8V510.8M514.0,504.8h9.0M514.0,510.8h9.0M528.4,504.1V510.1M523.9,504.1h9.0M523.9,510.1h9.0M538.3,517.3V523.3M533.8,517.3h9.0M533.8,523.3h9.0M548.2,514.5V520.5M543.7,514.5h9.0M543.7,520.5h9.0M558.1,519.4V525.4M553.6,519.4h9.0M553.6,525.4h9.0M568.0,520.8V526.8M563.5,520.8h9.0M563.5,526.8h9.0M577.9,516.6V522.6M573.4,516.6h9.0M573.4,522.6h9.0M587.9,519.4V525.4M583.4,519.4h9.0M583.4,525.4h9.0M597.8,514.5V520.5M593.3,514.5h9.0M593.3,520.5h9.0M607.7,510.3V516.3M603.2,510.3h9.0M603.2,516.3h9.0M617.6,515.2V521.2M613.1,515.2h9.0M613.1,521.2h9.0M627.5,514.5V520.5M623.0,514.5h9.0M623.0,520.5h9.0M637.4,520.8V526.8M632.9,520.8h9.0M632.9,526.8h9.0M647.3,525.7V531.7M642.8,525.7h9.0M642.8,531.7h9.0M657.2,524.3V530.3M652.7,524.3h9.0M652.7,530.3h9.0M667.1,518.3V529.3M662.6,518.3h9.0M662.6,529.3h9.0M677.0,543.4V554.4M672.5,543.4h9.0M672.5,554.4h9.0M687.0,542.0V553.0M682.5,542.0h9.0M682.5,553.0h9.0M696.9,534.3V545.3M692.4,534.3h9.0M692.4,545.3h9.0M706.8,593.1V604.1M702.3,593.1h9.0M702.3,604.1h9.0M716.7,588.9V599.9M712.2,588.9h9.0M712.2,599.9h9.0M726.6,588.9V599.9M722.1,588.9h9.0M722.1,599.9h9.0M736.5,537.8V548.8M732.0,537.8h9.0M732.0,548.8h9.0M746.4,628.4V639.4M741.9,628.4h9.0M741.9,639.4h9.0M756.3,600.1V611.1M751.8,600.1h9.0M751.8,611.1h9.0M766.2,603.6V614.6M761.7,603.6h9.0M761.7,614.6h9.0M776.1,598.0V609.0M771.6,598.0h9.0M771.6,609.0h9.0M786.0,562.3V573.3M781.5,562.3h9.0M781.5,573.3h9.0M796.0,605.0V616.0M791.5,605.0h9.0M791.5,616.0h9.0M805.9,568.1V579.1M801.4,568.1h9.0M801.4,579.1h9.0M815.8,602.3V613.3M811.3,602.3h9.0M811.3,613.3h9.0M825.7,574.3V585.3M821.2,574.3h9.0M821.2,585.3h9.0M835.6,590.4V601.4M831.1,590.4h9.0M831.1,601.4h9.0M845.5,591.8V602.8M841.0,591.8h9.0M841.0,602.8h9.0M855.4,570.2V581.2M850.9,570.2h9.0M850.9,581.2h9.0M865.3,596.0V607.0M860.8,596.0h9.0M860.8,607.0h9.0M875.2,575.7V586.7M870.7,575.7h9.0M870.7,586.7h9.0M885.1,584.8V595.8M880.6,584.8h9.0M880.6,595.8h9.0M895.1,579.2V590.2M890.6,579.2h9.0M890.6,590.2h9.0M905.0,613.5V624.5M900.5,613.5h9.0M900.5,624.5h9.0M914.9,591.1V602.1M910.4,591.1h9.0M910.4,602.1h9.0M924.8,587.6V598.6M920.3,587.6h9.0M920.3,598.6h9.0M934.7,577.1V588.1M930.2,577.1h9.0M930.2,588.1h9.0M944.6,574.3V585.3M940.1,574.3h9.0M940.1,585.3h9.0M954.5,614.2V625.2M950.0,614.2h9.0M950.0,625.2h9.0"/>
<path d="M436.6,539.1L439.2,534.5L441.8,539.1ZM446.5,520.2L449.1,515.6L451.7,520.2ZM456.4,520.2L459.0,515.6L461.6,520.2ZM466.3,520.2L468.9,515.6L471.5,520.2ZM476.2,521.6L478.8,517.0L481.4,521.6ZM486.1,525.8L488.8,521.2L491.4,525.8ZM496.1,527.2L498.7,522.6L501.3,527.2ZM506.0,517.4L508.6,512.8L511.2,517.4ZM515.9,509.8L518.5,505.2L521.1,509.8ZM525.8,509.1L528.4,504.5L531.0,509.1ZM535.7,522.3L538.3,517.7L540.9,522.3ZM545.6,519.5L548.2,514.9L550.8,519.5ZM555.5,524.4L558.1,519.8L560.7,524.4ZM565.4,525.8L568.0,521.2L570.6,525.8ZM575.3,521.6L577.9,517.0L580.5,521.6ZM585.2,524.4L587.9,519.8L590.5,524.4ZM595.2,519.5L597.8,514.9L600.4,519.5ZM605.1,515.3L607.7,510.7L610.3,515.3ZM615.0,520.2L617.6,515.6L620.2,520.2ZM624.9,519.5L627.5,514.9L630.1,519.5ZM634.8,525.8L637.4,521.2L640.0,525.8ZM644.7,530.7L647.3,526.1L649.9,530.7ZM654.6,529.3L657.2,524.7L659.8,529.3ZM664.5,525.8L667.1,521.2L669.7,525.8ZM674.4,550.9L677.0,546.3L679.6,550.9ZM684.4,549.5L687.0,544.9L689.6,549.5ZM694.3,541.8L696.9,537.2L699.5,541.8ZM704.2,600.6L706.8,596.0L709.4,600.6ZM714.1,596.4L716.7,591.8L719.3,596.4ZM724.0,596.4L726.6,591.8L729.2,596.4ZM733.9,545.3L736.5,540.7L739.1,545.3ZM743.8,635.9L746.4,631.3L749.0,635.9ZM753.7,607.6L756.3,603.0L758.9,607.6ZM763.6,611.1L766.2,606.5L768.8,611.1ZM773.5,605.5L776.1,600.9L778.7,605.5ZM783.4,569.8L786.0,565.2L788.6,569.8ZM793.4,612.5L796.0,607.9L798.6,612.5ZM803.3,575.6L805.9,571.0L808.5,575.6ZM813.2,609.8L815.8,605.2L818.4,609.8ZM823.1,581.8L825.7,577.2L828.3,581.8ZM833.0,597.9L835.6,593.3L838.2,597.9ZM842.9,599.3L845.5,594.7L848.1,599.3ZM852.8,577.7L855.4,573.1L858.0,577.7ZM862.7,603.5L865.3,598.9L867.9,603.5ZM872.6,583.2L875.2,578.6L877.8,583.2ZM882.5,592.3L885.1,587.7L887.8,592.3ZM892.5,586.7L895.1,582.1L897.7,586.7ZM902.4,621.0L905.0,616.4L907.6,621.0ZM912.3,598.6L914.9,594.0L917.5,598.6ZM922.2,595.1L924.8,590.5L927.4,595.1ZM932.1,584.6L934.7,580.0L937.3,584.6ZM942.0,581.8L944.6,577.2L947.2,581.8ZM951.9,621.7L954.5,617.1L957.1,621.7Z" fill="#0000ff" stroke="none"/>
</g>
<g stroke="#ff0000" fill="none" stroke-width="1.7" stroke-linejoin="round" clip-path="url(#ce)">
<path d="M429.3,819.0 L439.2,790.9 L449.1,813.3 L459.0,813.3 L468.9,813.3 L478.8,811.9 L488.8,811.9 L498.7,802.8 L508.6,813.0 L518.5,813.3 L528.4,813.3 L538.3,813.3 L548.2,813.0 L558.1,812.6 L568.0,802.8 L577.9,811.9 L587.9,813.3 L597.8,804.2 L607.7,811.9 L617.6,803.5 L627.5,811.9 L637.4,811.2 L647.3,809.1 L657.2,800.0 L667.1,809.1 L677.0,781.1 L687.0,774.1 L696.9,790.2 L706.8,704.2 L716.7,728.7 L726.6,707.0 L736.5,751.0 L746.4,625.7 L756.3,655.7 L766.2,653.6 L776.1,654.3 L786.0,697.7 L796.0,643.1 L805.9,683.4 L815.8,642.9 L825.7,675.7 L835.6,665.2 L845.5,654.7 L855.4,679.9 L865.3,650.5 L875.2,682.0 L885.1,665.2 L895.1,676.4 L905.0,633.1 L914.9,652.6 L924.8,663.8 L934.7,675.7 L944.6,682.7 L954.5,633.8 L964.4,659.5"/>
<path d="M439.2,788.5V793.3M434.7,788.5h9.0M434.7,793.3h9.0M449.1,812.4V814.2M444.6,812.4h9.0M444.6,814.2h9.0M459.0,812.4V814.2M454.5,812.4h9.0M454.5,814.2h9.0M468.9,812.4V814.2M464.4,812.4h9.0M464.4,814.2h9.0M478.8,811.0V812.8M474.3,811.0h9.0M474.3,812.8h9.0M488.8,811.0V812.8M484.2,811.0h9.0M484.2,812.8h9.0M498.7,800.4V805.2M494.2,800.4h9.0M494.2,805.2h9.0M508.6,812.1V813.9M504.1,812.1h9.0M504.1,813.9h9.0M518.5,812.4V814.2M514.0,812.4h9.0M514.0,814.2h9.0M528.4,812.4V814.2M523.9,812.4h9.0M523.9,814.2h9.0M538.3,812.4V814.2M533.8,812.4h9.0M533.8,814.2h9.0M548.2,812.1V813.9M543.7,812.1h9.0M543.7,813.9h9.0M558.1,811.7V813.5M553.6,811.7h9.0M553.6,813.5h9.0M568.0,800.4V805.2M563.5,800.4h9.0M563.5,805.2h9.0M577.9,811.0V812.8M573.4,811.0h9.0M573.4,812.8h9.0M587.9,812.4V814.2M583.4,812.4h9.0M583.4,814.2h9.0M597.8,801.8V806.6M593.3,801.8h9.0M593.3,806.6h9.0M607.7,811.0V812.8M603.2,811.0h9.0M603.2,812.8h9.0M617.6,801.1V805.9M613.1,801.1h9.0M613.1,805.9h9.0M627.5,811.0V812.8M623.0,811.0h9.0M623.0,812.8h9.0M637.4,810.3V812.1M632.9,810.3h9.0M632.9,812.1h9.0M647.3,806.5V811.7M642.8,806.5h9.0M642.8,811.7h9.0M657.2,797.4V802.6M652.7,797.4h9.0M652.7,802.6h9.0M667.1,806.5V811.7M662.6,806.5h9.0M662.6,811.7h9.0M677.0,776.6V785.6M672.5,776.6h9.0M672.5,785.6h9.0M687.0,769.6V778.6M682.5,769.6h9.0M682.5,778.6h9.0M696.9,785.7V794.7M692.4,785.7h9.0M692.4,794.7h9.0M706.8,699.7V708.7M702.3,699.7h9.0M702.3,708.7h9.0M716.7,724.2V733.2M712.2,724.2h9.0M712.2,733.2h9.0M726.6,702.5V711.5M722.1,702.5h9.0M722.1,711.5h9.0M736.5,746.5V755.5M732.0,746.5h9.0M732.0,755.5h9.0M746.4,621.2V630.2M741.9,621.2h9.0M741.9,630.2h9.0M756.3,651.2V660.2M751.8,651.2h9.0M751.8,660.2h9.0M766.2,649.1V658.1M761.7,649.1h9.0M761.7,658.1h9.0M776.1,649.8V658.8M771.6,649.8h9.0M771.6,658.8h9.0M786.0,693.2V702.2M781.5,693.2h9.0M781.5,702.2h9.0M796.0,638.6V647.6M791.5,638.6h9.0M791.5,647.6h9.0M805.9,678.9V687.9M801.4,678.9h9.0M801.4,687.9h9.0M815.8,638.4V647.4M811.3,638.4h9.0M811.3,647.4h9.0M825.7,671.2V680.2M821.2,671.2h9.0M821.2,680.2h9.0M835.6,660.7V669.7M831.1,660.7h9.0M831.1,669.7h9.0M845.5,650.2V659.2M841.0,650.2h9.0M841.0,659.2h9.0M855.4,675.4V684.4M850.9,675.4h9.0M850.9,684.4h9.0M865.3,646.0V655.0M860.8,646.0h9.0M860.8,655.0h9.0M875.2,677.5V686.5M870.7,677.5h9.0M870.7,686.5h9.0M885.1,660.7V669.7M880.6,660.7h9.0M880.6,669.7h9.0M895.1,671.9V680.9M890.6,671.9h9.0M890.6,680.9h9.0M905.0,628.6V637.6M900.5,628.6h9.0M900.5,637.6h9.0M914.9,648.1V657.1M910.4,648.1h9.0M910.4,657.1h9.0M924.8,659.3V668.3M920.3,659.3h9.0M920.3,668.3h9.0M934.7,671.2V680.2M930.2,671.2h9.0M930.2,680.2h9.0M944.6,678.2V687.2M940.1,678.2h9.0M940.1,687.2h9.0M954.5,629.3V638.3M950.0,629.3h9.0M950.0,638.3h9.0"/>
<path d="M437.0,790.9a2.2,2.2 0 1,0 4.4,0a2.2,2.2 0 1,0 -4.4,0ZM446.9,813.3a2.2,2.2 0 1,0 4.4,0a2.2,2.2 0 1,0 -4.4,0ZM456.8,813.3a2.2,2.2 0 1,0 4.4,0a2.2,2.2 0 1,0 -4.4,0ZM466.7,813.3a2.2,2.2 0 1,0 4.4,0a2.2,2.2 0 1,0 -4.4,0ZM476.6,811.9a2.2,2.2 0 1,0 4.4,0a2.2,2.2 0 1,0 -4.4,0ZM486.6,811.9a2.2,2.2 0 1,0 4.4,0a2.2,2.2 0 1,0 -4.4,0ZM496.5,802.8a2.2,2.2 0 1,0 4.4,0a2.2,2.2 0 1,0 -4.4,0ZM506.4,813.0a2.2,2.2 0 1,0 4.4,0a2.2,2.2 0 1,0 -4.4,0ZM516.3,813.3a2.2,2.2 0 1,0 4.4,0a2.2,2.2 0 1,0 -4.4,0ZM526.2,813.3a2.2,2.2 0 1,0 4.4,0a2.2,2.2 0 1,0 -4.4,0ZM536.1,813.3a2.2,2.2 0 1,0 4.4,0a2.2,2.2 0 1,0 -4.4,0ZM546.0,813.0a2.2,2.2 0 1,0 4.4,0a2.2,2.2 0 1,0 -4.4,0ZM555.9,812.6a2.2,2.2 0 1,0 4.4,0a2.2,2.2 0 1,0 -4.4,0ZM565.8,802.8a2.2,2.2 0 1,0 4.4,0a2.2,2.2 0 1,0 -4.4,0ZM575.7,811.9a2.2,2.2 0 1,0 4.4,0a2.2,2.2 0 1,0 -4.4,0ZM585.6,813.3a2.2,2.2 0 1,0 4.4,0a2.2,2.2 0 1,0 -4.4,0ZM595.6,804.2a2.2,2.2 0 1,0 4.4,0a2.2,2.2 0 1,0 -4.4,0ZM605.5,811.9a2.2,2.2 0 1,0 4.4,0a2.2,2.2 0 1,0 -4.4,0ZM615.4,803.5a2.2,2.2 0 1,0 4.4,0a2.2,2.2 0 1,0 -4.4,0ZM625.3,811.9a2.2,2.2 0 1,0 4.4,0a2.2,2.2 0 1,0 -4.4,0ZM635.2,811.2a2.2,2.2 0 1,0 4.4,0a2.2,2.2 0 1,0 -4.4,0ZM645.1,809.1a2.2,2.2 0 1,0 4.4,0a2.2,2.2 0 1,0 -4.4,0ZM655.0,800.0a2.2,2.2 0 1,0 4.4,0a2.2,2.2 0 1,0 -4.4,0ZM664.9,809.1a2.2,2.2 0 1,0 4.4,0a2.2,2.2 0 1,0 -4.4,0ZM674.8,781.1a2.2,2.2 0 1,0 4.4,0a2.2,2.2 0 1,0 -4.4,0ZM684.8,774.1a2.2,2.2 0 1,0 4.4,0a2.2,2.2 0 1,0 -4.4,0ZM694.7,790.2a2.2,2.2 0 1,0 4.4,0a2.2,2.2 0 1,0 -4.4,0ZM704.6,704.2a2.2,2.2 0 1,0 4.4,0a2.2,2.2 0 1,0 -4.4,0ZM714.5,728.7a2.2,2.2 0 1,0 4.4,0a2.2,2.2 0 1,0 -4.4,0ZM724.4,707.0a2.2,2.2 0 1,0 4.4,0a2.2,2.2 0 1,0 -4.4,0ZM734.3,751.0a2.2,2.2 0 1,0 4.4,0a2.2,2.2 0 1,0 -4.4,0ZM744.2,625.7a2.2,2.2 0 1,0 4.4,0a2.2,2.2 0 1,0 -4.4,0ZM754.1,655.7a2.2,2.2 0 1,0 4.4,0a2.2,2.2 0 1,0 -4.4,0ZM764.0,653.6a2.2,2.2 0 1,0 4.4,0a2.2,2.2 0 1,0 -4.4,0ZM773.9,654.3a2.2,2.2 0 1,0 4.4,0a2.2,2.2 0 1,0 -4.4,0ZM783.8,697.7a2.2,2.2 0 1,0 4.4,0a2.2,2.2 0 1,0 -4.4,0ZM793.8,643.1a2.2,2.2 0 1,0 4.4,0a2.2,2.2 0 1,0 -4.4,0ZM803.7,683.4a2.2,2.2 0 1,0 4.4,0a2.2,2.2 0 1,0 -4.4,0ZM813.6,642.9a2.2,2.2 0 1,0 4.4,0a2.2,2.2 0 1,0 -4.4,0ZM823.5,675.7a2.2,2.2 0 1,0 4.4,0a2.2,2.2 0 1,0 -4.4,0ZM833.4,665.2a2.2,2.2 0 1,0 4.4,0a2.2,2.2 0 1,0 -4.4,0ZM843.3,654.7a2.2,2.2 0 1,0 4.4,0a2.2,2.2 0 1,0 -4.4,0ZM853.2,679.9a2.2,2.2 0 1,0 4.4,0a2.2,2.2 0 1,0 -4.4,0ZM863.1,650.5a2.2,2.2 0 1,0 4.4,0a2.2,2.2 0 1,0 -4.4,0ZM873.0,682.0a2.2,2.2 0 1,0 4.4,0a2.2,2.2 0 1,0 -4.4,0ZM882.9,665.2a2.2,2.2 0 1,0 4.4,0a2.2,2.2 0 1,0 -4.4,0ZM892.9,676.4a2.2,2.2 0 1,0 4.4,0a2.2,2.2 0 1,0 -4.4,0ZM902.8,633.1a2.2,2.2 0 1,0 4.4,0a2.2,2.2 0 1,0 -4.4,0ZM912.7,652.6a2.2,2.2 0 1,0 4.4,0a2.2,2.2 0 1,0 -4.4,0ZM922.6,663.8a2.2,2.2 0 1,0 4.4,0a2.2,2.2 0 1,0 -4.4,0ZM932.5,675.7a2.2,2.2 0 1,0 4.4,0a2.2,2.2 0 1,0 -4.4,0ZM942.4,682.7a2.2,2.2 0 1,0 4.4,0a2.2,2.2 0 1,0 -4.4,0ZM952.3,633.8a2.2,2.2 0 1,0 4.4,0a2.2,2.2 0 1,0 -4.4,0Z" fill="#ff0000" stroke="none"/>
</g>
<g stroke="#f7106c" fill="none" stroke-width="1.75" stroke-linejoin="round" clip-path="url(#cc)">
<path d="M1107.0,336.0 L1116.9,353.3 L1126.8,302.6 L1136.7,322.1 L1146.6,336.7 L1156.5,354.0 L1166.5,345.7 L1176.4,320.2 L1186.3,293.0 L1196.2,328.1 L1206.1,330.5 L1216.0,330.0 L1225.9,339.1 L1235.8,286.0 L1245.7,341.6 L1255.6,332.5 L1265.6,312.3 L1275.5,342.6 L1285.4,326.5 L1295.3,314.0 L1305.2,333.2 L1315.1,344.9 L1325.0,310.3 L1334.9,356.4 L1344.8,321.2 L1354.7,270.6 L1364.7,356.2 L1374.6,320.4 L1384.5,366.2 L1394.4,341.6 L1404.3,315.9 L1414.2,265.4 L1424.1,263.4 L1434.0,266.4 L1443.9,296.5 L1453.8,317.7 L1463.8,299.1 L1473.7,279.8 L1483.6,321.4 L1493.5,324.5 L1503.4,306.0 L1513.3,347.1 L1523.2,270.7 L1533.1,257.4 L1543.0,366.2 L1552.9,350.9 L1562.9,262.6 L1572.8,316.6 L1582.7,315.8 L1592.6,319.2 L1602.5,351.9 L1612.4,281.8 L1622.3,268.8 L1632.2,305.0 L1642.1,316.0"/>
<path d="M1116.9,336.5V370.0M1112.2,336.5h9.4M1112.2,370.0h9.4M1126.8,277.1V328.1M1122.1,277.1h9.4M1122.1,328.1h9.4M1136.7,300.1V344.2M1132.0,300.1h9.4M1132.0,344.2h9.4M1146.6,317.3V356.0M1141.9,317.3h9.4M1141.9,356.0h9.4M1156.5,339.0V368.9M1151.8,339.0h9.4M1151.8,368.9h9.4M1166.5,328.1V363.3M1161.8,328.1h9.4M1161.8,363.3h9.4M1176.4,296.2V344.2M1171.7,296.2h9.4M1171.7,344.2h9.4M1186.3,266.3V319.7M1181.6,266.3h9.4M1181.6,319.7h9.4M1196.2,307.1V349.1M1191.5,307.1h9.4M1191.5,349.1h9.4M1206.1,309.9V351.2M1201.4,309.9h9.4M1201.4,351.2h9.4M1216.0,308.8V351.2M1211.3,308.8h9.4M1211.3,351.2h9.4M1225.9,319.7V358.6M1221.2,319.7h9.4M1221.2,358.6h9.4M1235.8,259.3V312.7M1231.1,259.3h9.4M1231.1,312.7h9.4M1245.7,323.6V359.5M1241.0,323.6h9.4M1241.0,359.5h9.4M1255.6,312.4V352.6M1250.9,312.4h9.4M1250.9,352.6h9.4M1265.6,289.2V335.4M1260.9,289.2h9.4M1260.9,335.4h9.4M1275.5,325.3V360.0M1270.8,325.3h9.4M1270.8,360.0h9.4M1285.4,305.3V347.7M1280.7,305.3h9.4M1280.7,347.7h9.4M1295.3,291.5V336.5M1290.6,291.5h9.4M1290.6,336.5h9.4M1305.2,313.8V352.6M1300.5,313.8h9.4M1300.5,352.6h9.4M1315.1,326.4V363.3M1310.4,326.4h9.4M1310.4,363.3h9.4M1325.0,285.4V335.1M1320.3,285.4h9.4M1320.3,335.1h9.4M1334.9,340.3V372.5M1330.2,340.3h9.4M1330.2,372.5h9.4M1344.8,295.1V347.3M1340.1,295.1h9.4M1340.1,347.3h9.4M1354.7,232.9V308.4M1350.0,232.9h9.4M1350.0,308.4h9.4M1364.7,334.7V377.8M1360.0,334.7h9.4M1360.0,377.8h9.4M1374.6,287.8V352.9M1369.9,287.8h9.4M1369.9,352.9h9.4M1384.5,347.3V385.1M1379.8,347.3h9.4M1379.8,385.1h9.4M1394.4,310.7V372.5M1389.7,310.7h9.4M1389.7,372.5h9.4M1404.3,275.5V356.4M1399.6,275.5h9.4M1399.6,356.4h9.4M1414.2,211.2V319.5M1409.5,211.2h9.4M1409.5,319.5h9.4M1424.1,209.5V317.4M1419.4,209.5h9.4M1419.4,317.4h9.4M1434.0,213.3V319.5M1429.3,213.3h9.4M1429.3,319.5h9.4M1443.9,252.4V340.6M1439.2,252.4h9.4M1439.2,340.6h9.4M1453.8,279.0V356.4M1449.1,279.0h9.4M1449.1,356.4h9.4M1463.8,255.9V342.4M1459.0,255.9h9.4M1459.0,342.4h9.4M1473.7,232.9V326.6M1469.0,232.9h9.4M1469.0,326.6h9.4M1483.6,284.2V358.5M1478.9,284.2h9.4M1478.9,358.5h9.4M1493.5,289.1V359.9M1488.8,289.1h9.4M1488.8,359.9h9.4M1503.4,266.4V345.6M1498.7,266.4h9.4M1498.7,345.6h9.4M1513.3,320.0V374.2M1508.6,320.0h9.4M1508.6,374.2h9.4M1523.2,224.0V317.4M1518.5,224.0h9.4M1518.5,317.4h9.4M1533.1,209.8V304.9M1528.4,209.8h9.4M1528.4,304.9h9.4M1543.0,347.3V385.1M1538.3,347.3h9.4M1538.3,385.1h9.4M1552.9,327.8V373.9M1548.2,327.8h9.4M1548.2,373.9h9.4M1562.9,216.8V308.4M1558.2,216.8h9.4M1558.2,308.4h9.4M1572.8,282.5V350.8M1568.1,282.5h9.4M1568.1,350.8h9.4M1582.7,280.8V350.8M1578.0,280.8h9.4M1578.0,350.8h9.4M1592.6,285.6V352.9M1587.9,285.6h9.4M1587.9,352.9h9.4M1602.5,327.8V376.0M1597.8,327.8h9.4M1597.8,376.0h9.4M1612.4,239.8V323.7M1607.7,239.8h9.4M1607.7,323.7h9.4M1622.3,225.6V311.9M1617.6,225.6h9.4M1617.6,311.9h9.4M1632.2,269.6V340.3M1627.5,269.6h9.4M1627.5,340.3h9.4"/>
<path d="M1114.6,353.3L1116.9,350.7L1119.2,353.3L1116.9,355.9ZM1124.5,302.6L1126.8,300.0L1129.1,302.6L1126.8,305.2ZM1134.4,322.1L1136.7,319.5L1139.0,322.1L1136.7,324.7ZM1144.3,336.7L1146.6,334.1L1148.9,336.7L1146.6,339.3ZM1154.2,354.0L1156.5,351.4L1158.8,354.0L1156.5,356.6ZM1164.2,345.7L1166.5,343.1L1168.8,345.7L1166.5,348.3ZM1174.1,320.2L1176.4,317.6L1178.7,320.2L1176.4,322.8ZM1184.0,293.0L1186.3,290.4L1188.6,293.0L1186.3,295.6ZM1193.9,328.1L1196.2,325.5L1198.5,328.1L1196.2,330.7ZM1203.8,330.5L1206.1,327.9L1208.4,330.5L1206.1,333.1ZM1213.7,330.0L1216.0,327.4L1218.3,330.0L1216.0,332.6ZM1223.6,339.1L1225.9,336.5L1228.2,339.1L1225.9,341.7ZM1233.5,286.0L1235.8,283.4L1238.1,286.0L1235.8,288.6ZM1243.4,341.6L1245.7,339.0L1248.0,341.6L1245.7,344.2ZM1253.3,332.5L1255.6,329.9L1257.9,332.5L1255.6,335.1ZM1263.3,312.3L1265.6,309.7L1267.9,312.3L1265.6,314.9ZM1273.2,342.6L1275.5,340.0L1277.8,342.6L1275.5,345.2ZM1283.1,326.5L1285.4,323.9L1287.7,326.5L1285.4,329.1ZM1293.0,314.0L1295.3,311.4L1297.6,314.0L1295.3,316.6ZM1302.9,333.2L1305.2,330.6L1307.5,333.2L1305.2,335.8ZM1312.8,344.9L1315.1,342.3L1317.4,344.9L1315.1,347.5ZM1322.7,310.3L1325.0,307.7L1327.3,310.3L1325.0,312.9ZM1332.6,356.4L1334.9,353.8L1337.2,356.4L1334.9,359.0ZM1342.5,321.2L1344.8,318.6L1347.1,321.2L1344.8,323.8ZM1352.4,270.6L1354.7,268.0L1357.0,270.6L1354.7,273.2ZM1362.4,356.2L1364.7,353.6L1367.0,356.2L1364.7,358.9ZM1372.3,320.4L1374.6,317.8L1376.9,320.4L1374.6,323.0ZM1382.2,366.2L1384.5,363.6L1386.8,366.2L1384.5,368.8ZM1392.1,341.6L1394.4,339.0L1396.7,341.6L1394.4,344.2ZM1402.0,315.9L1404.3,313.3L1406.6,315.9L1404.3,318.6ZM1411.9,265.4L1414.2,262.8L1416.5,265.4L1414.2,268.0ZM1421.8,263.4L1424.1,260.8L1426.4,263.4L1424.1,266.1ZM1431.7,266.4L1434.0,263.8L1436.3,266.4L1434.0,269.0ZM1441.6,296.5L1443.9,293.9L1446.2,296.5L1443.9,299.1ZM1451.5,317.7L1453.8,315.1L1456.1,317.7L1453.8,320.3ZM1461.5,299.1L1463.8,296.5L1466.0,299.1L1463.8,301.8ZM1471.4,279.8L1473.7,277.1L1476.0,279.8L1473.7,282.4ZM1481.3,321.4L1483.6,318.8L1485.9,321.4L1483.6,324.0ZM1491.2,324.5L1493.5,321.9L1495.8,324.5L1493.5,327.1ZM1501.1,306.0L1503.4,303.4L1505.7,306.0L1503.4,308.6ZM1511.0,347.1L1513.3,344.5L1515.6,347.1L1513.3,349.7ZM1520.9,270.7L1523.2,268.1L1525.5,270.7L1523.2,273.3ZM1530.8,257.4L1533.1,254.8L1535.4,257.4L1533.1,260.0ZM1540.7,366.2L1543.0,363.6L1545.3,366.2L1543.0,368.8ZM1550.6,350.9L1552.9,348.2L1555.2,350.9L1552.9,353.5ZM1560.6,262.6L1562.9,260.0L1565.2,262.6L1562.9,265.2ZM1570.5,316.6L1572.8,314.0L1575.1,316.6L1572.8,319.2ZM1580.4,315.8L1582.7,313.2L1585.0,315.8L1582.7,318.4ZM1590.3,319.2L1592.6,316.6L1594.9,319.2L1592.6,321.9ZM1600.2,351.9L1602.5,349.3L1604.8,351.9L1602.5,354.5ZM1610.1,281.8L1612.4,279.1L1614.7,281.8L1612.4,284.4ZM1620.0,268.8L1622.3,266.1L1624.6,268.8L1622.3,271.4ZM1629.9,305.0L1632.2,302.4L1634.5,305.0L1632.2,307.6Z" fill="#f7106c" stroke="none"/>
</g>
<g stroke="#f7106c" fill="none" stroke-width="1.75" stroke-linejoin="round" clip-path="url(#cf)">
<path d="M1107.0,654.6 L1116.9,654.6 L1126.8,644.9 L1136.7,623.8 L1146.6,655.8 L1156.5,660.9 L1166.5,604.6 L1176.4,637.5 L1186.3,643.1 L1196.2,649.1 L1206.1,604.3 L1216.0,636.2 L1225.9,653.4 L1235.8,657.0 L1245.7,643.9 L1255.6,629.7 L1265.6,647.5 L1275.5,633.8 L1285.4,619.4 L1295.3,652.1 L1305.2,636.2 L1315.1,630.6 L1325.0,642.1 L1334.9,587.1 L1344.8,637.6 L1354.7,628.0 L1364.7,638.6 L1374.6,652.8 L1384.5,649.1 L1394.4,636.0 L1404.3,610.3 L1414.2,627.0 L1424.1,587.3 L1434.0,606.7 L1443.9,664.2 L1453.8,642.0 L1463.8,600.5 L1473.7,657.0 L1483.6,622.8 L1493.5,614.5 L1503.4,568.2 L1513.3,667.7 L1523.2,681.1 L1533.1,621.8 L1543.0,666.2 L1552.9,578.0 L1562.9,663.3 L1572.8,570.7 L1582.7,722.0 L1592.6,551.3 L1602.5,651.9 L1612.4,637.8 L1622.3,589.9 L1632.2,642.0 L1642.1,612.0"/>
<path d="M1116.9,634.3V674.9M1112.2,634.3h9.4M1112.2,674.9h9.4M1126.8,623.6V666.2M1122.1,623.6h9.4M1122.1,666.2h9.4M1136.7,602.9V644.8M1132.0,602.9h9.4M1132.0,644.8h9.4M1146.6,634.6V677.0M1141.9,634.6h9.4M1141.9,677.0h9.4M1156.5,639.9V681.9M1151.8,639.9h9.4M1151.8,681.9h9.4M1166.5,583.3V625.9M1161.8,583.3h9.4M1161.8,625.9h9.4M1176.4,616.1V658.8M1171.7,616.1h9.4M1171.7,658.8h9.4M1186.3,621.7V664.4M1181.6,621.7h9.4M1181.6,664.4h9.4M1196.2,628.7V669.6M1191.5,628.7h9.4M1191.5,669.6h9.4M1206.1,583.3V625.2M1201.4,583.3h9.4M1201.4,625.2h9.4M1216.0,615.0V657.4M1211.3,615.0h9.4M1211.3,657.4h9.4M1225.9,632.2V674.6M1221.2,632.2h9.4M1221.2,674.6h9.4M1235.8,635.7V678.4M1231.1,635.7h9.4M1231.1,678.4h9.4M1245.7,623.4V664.4M1241.0,623.4h9.4M1241.0,664.4h9.4M1255.6,609.2V650.2M1250.9,609.2h9.4M1250.9,650.2h9.4M1265.6,627.4V667.7M1260.9,627.4h9.4M1260.9,667.7h9.4M1275.5,614.2V653.4M1270.8,614.2h9.4M1270.8,653.4h9.4M1285.4,600.5V638.3M1280.7,600.5h9.4M1280.7,638.3h9.4M1295.3,632.7V671.6M1290.6,632.7h9.4M1290.6,671.6h9.4M1305.2,616.6V655.8M1300.5,616.6h9.4M1300.5,655.8h9.4M1315.1,611.0V650.2M1310.4,611.0h9.4M1310.4,650.2h9.4M1325.0,623.6V660.7M1320.3,623.6h9.4M1320.3,660.7h9.4M1334.9,566.7V607.5M1330.2,566.7h9.4M1330.2,607.5h9.4M1344.8,618.0V657.2M1340.1,618.0h9.4M1340.1,657.2h9.4M1354.7,605.9V650.2M1350.0,605.9h9.4M1350.0,650.2h9.4M1364.7,614.5V662.8M1360.0,614.5h9.4M1360.0,662.8h9.4M1374.6,625.4V680.2M1369.9,625.4h9.4M1369.9,680.2h9.4M1384.5,618.0V680.2M1379.8,618.0h9.4M1379.8,680.2h9.4M1394.4,600.5V671.4M1389.7,600.5h9.4M1389.7,671.4h9.4M1404.3,572.3V648.4M1399.6,572.3h9.4M1399.6,648.4h9.4M1414.2,589.8V664.2M1409.5,589.8h9.4M1409.5,664.2h9.4M1424.1,549.4V625.2M1419.4,549.4h9.4M1419.4,625.2h9.4M1434.0,570.8V642.6M1429.3,570.8h9.4M1429.3,642.6h9.4M1443.9,630.5V697.9M1439.2,630.5h9.4M1439.2,697.9h9.4M1453.8,607.3V676.6M1449.1,607.3h9.4M1449.1,676.6h9.4M1463.8,566.9V634.0M1459.0,566.9h9.4M1459.0,634.0h9.4M1473.7,625.2V688.8M1469.0,625.2h9.4M1469.0,688.8h9.4M1483.6,588.6V657.0M1478.9,588.6h9.4M1478.9,657.0h9.4M1493.5,579.0V650.1M1488.8,579.0h9.4M1488.8,650.1h9.4M1503.4,531.7V604.7M1498.7,531.7h9.4M1498.7,604.7h9.4M1513.3,634.0V701.4M1508.6,634.0h9.4M1508.6,701.4h9.4M1523.2,648.2V714.0M1518.5,648.2h9.4M1518.5,714.0h9.4M1533.1,586.5V657.0M1528.4,586.5h9.4M1528.4,657.0h9.4M1543.0,632.9V699.6M1538.3,632.9h9.4M1538.3,699.6h9.4M1552.9,540.3V615.8M1548.2,540.3h9.4M1548.2,615.8h9.4M1562.9,628.7V697.9M1558.2,628.7h9.4M1558.2,697.9h9.4M1572.8,533.3V608.1M1568.1,533.3h9.4M1568.1,608.1h9.4M1582.7,692.0V752.4M1578.0,692.0h9.4M1578.0,752.4h9.4M1592.6,514.0V588.6M1587.9,514.0h9.4M1587.9,588.6h9.4M1602.5,618.2V685.6M1597.8,618.2h9.4M1597.8,685.6h9.4M1612.4,604.4V671.3M1607.7,604.4h9.4M1607.7,671.3h9.4M1622.3,554.6V625.2M1617.6,554.6h9.4M1617.6,625.2h9.4M1632.2,607.4V676.6M1627.5,607.4h9.4M1627.5,676.6h9.4"/>
<path d="M1114.6,654.6L1116.9,652.0L1119.2,654.6L1116.9,657.2ZM1124.5,644.9L1126.8,642.3L1129.1,644.9L1126.8,647.5ZM1134.4,623.8L1136.7,621.2L1139.0,623.8L1136.7,626.4ZM1144.3,655.8L1146.6,653.2L1148.9,655.8L1146.6,658.4ZM1154.2,660.9L1156.5,658.3L1158.8,660.9L1156.5,663.5ZM1164.2,604.6L1166.5,602.0L1168.8,604.6L1166.5,607.2ZM1174.1,637.5L1176.4,634.9L1178.7,637.5L1176.4,640.1ZM1184.0,643.1L1186.3,640.5L1188.6,643.1L1186.3,645.7ZM1193.9,649.1L1196.2,646.5L1198.5,649.1L1196.2,651.7ZM1203.8,604.3L1206.1,601.7L1208.4,604.3L1206.1,606.9ZM1213.7,636.2L1216.0,633.6L1218.3,636.2L1216.0,638.8ZM1223.6,653.4L1225.9,650.8L1228.2,653.4L1225.9,656.0ZM1233.5,657.0L1235.8,654.4L1238.1,657.0L1235.8,659.6ZM1243.4,643.9L1245.7,641.3L1248.0,643.9L1245.7,646.5ZM1253.3,629.7L1255.6,627.1L1257.9,629.7L1255.6,632.3ZM1263.3,647.5L1265.6,644.9L1267.9,647.5L1265.6,650.1ZM1273.2,633.8L1275.5,631.2L1277.8,633.8L1275.5,636.4ZM1283.1,619.4L1285.4,616.8L1287.7,619.4L1285.4,622.0ZM1293.0,652.1L1295.3,649.5L1297.6,652.1L1295.3,654.7ZM1302.9,636.2L1305.2,633.6L1307.5,636.2L1305.2,638.8ZM1312.8,630.6L1315.1,628.0L1317.4,630.6L1315.1,633.2ZM1322.7,642.1L1325.0,639.5L1327.3,642.1L1325.0,644.7ZM1332.6,587.1L1334.9,584.5L1337.2,587.1L1334.9,589.7ZM1342.5,637.6L1344.8,635.0L1347.1,637.6L1344.8,640.2ZM1352.4,628.0L1354.7,625.4L1357.0,628.0L1354.7,630.6ZM1362.4,638.6L1364.7,636.0L1367.0,638.6L1364.7,641.2ZM1372.3,652.8L1374.6,650.2L1376.9,652.8L1374.6,655.4ZM1382.2,649.1L1384.5,646.5L1386.8,649.1L1384.5,651.7ZM1392.1,636.0L1394.4,633.4L1396.7,636.0L1394.4,638.6ZM1402.0,610.3L1404.3,607.7L1406.6,610.3L1404.3,612.9ZM1411.9,627.0L1414.2,624.4L1416.5,627.0L1414.2,629.6ZM1421.8,587.3L1424.1,584.7L1426.4,587.3L1424.1,589.9ZM1431.7,606.7L1434.0,604.1L1436.3,606.7L1434.0,609.3ZM1441.6,664.2L1443.9,661.6L1446.2,664.2L1443.9,666.8ZM1451.5,642.0L1453.8,639.4L1456.1,642.0L1453.8,644.6ZM1461.5,600.5L1463.8,597.9L1466.0,600.5L1463.8,603.1ZM1471.4,657.0L1473.7,654.4L1476.0,657.0L1473.7,659.6ZM1481.3,622.8L1483.6,620.2L1485.9,622.8L1483.6,625.4ZM1491.2,614.5L1493.5,611.9L1495.8,614.5L1493.5,617.1ZM1501.1,568.2L1503.4,565.6L1505.7,568.2L1503.4,570.8ZM1511.0,667.7L1513.3,665.1L1515.6,667.7L1513.3,670.3ZM1520.9,681.1L1523.2,678.5L1525.5,681.1L1523.2,683.7ZM1530.8,621.8L1533.1,619.1L1535.4,621.8L1533.1,624.4ZM1540.7,666.2L1543.0,663.6L1545.3,666.2L1543.0,668.9ZM1550.6,578.0L1552.9,575.4L1555.2,578.0L1552.9,580.6ZM1560.6,663.3L1562.9,660.7L1565.2,663.3L1562.9,665.9ZM1570.5,570.7L1572.8,568.1L1575.1,570.7L1572.8,573.3ZM1580.4,722.0L1582.7,719.4L1585.0,722.0L1582.7,724.6ZM1590.3,551.3L1592.6,548.7L1594.9,551.3L1592.6,553.9ZM1600.2,651.9L1602.5,649.3L1604.8,651.9L1602.5,654.5ZM1610.1,637.8L1612.4,635.2L1614.7,637.8L1612.4,640.4ZM1620.0,589.9L1622.3,587.3L1624.6,589.9L1622.3,592.5ZM1629.9,642.0L1632.2,639.4L1634.5,642.0L1632.2,644.6Z" fill="#f7106c" stroke="none"/>
</g>
<line x1="1102.0" y1="324.4" x2="1638.8" y2="324.4" stroke="#000" stroke-width="2.5" stroke-dasharray="7.2 4.6"/>
<line x1="1111.0" y1="638.4" x2="1638.8" y2="638.4" stroke="#000" stroke-width="2.5" stroke-dasharray="7.2 4.6"/>
<path d="M433.3,80.3H960.6V814.4H433.3Z M433.3,446.3H960.6" fill="none" stroke="#000" stroke-width="1.8" stroke-linejoin="miter"/>
<path d="M1111.0,80.3H1638.8V812.8H1111.0Z M1111.0,446.3H1638.8" fill="none" stroke="#000" stroke-width="1.8" stroke-linejoin="miter"/>
<path d="M466.3,446.3L466.3,441.8M499.2,446.3L499.2,436.8M532.2,446.3L532.2,441.8M565.1,446.3L565.1,436.8M598.1,446.3L598.1,441.8M631.0,446.3L631.0,436.8M664.0,446.3L664.0,441.8M697.0,446.3L697.0,436.8M729.9,446.3L729.9,441.8M762.9,446.3L762.9,436.8M795.8,446.3L795.8,441.8M828.8,446.3L828.8,436.8M861.7,446.3L861.7,441.8M894.7,446.3L894.7,436.8M927.6,446.3L927.6,441.8M466.3,814.4L466.3,809.9M499.2,814.4L499.2,804.9M532.2,814.4L532.2,809.9M565.1,814.4L565.1,804.9M598.1,814.4L598.1,809.9M631.0,814.4L631.0,804.9M664.0,814.4L664.0,809.9M697.0,814.4L697.0,804.9M729.9,814.4L729.9,809.9M762.9,814.4L762.9,804.9M795.8,814.4L795.8,809.9M828.8,814.4L828.8,804.9M861.7,814.4L861.7,809.9M894.7,814.4L894.7,804.9M927.6,814.4L927.6,809.9M1144.0,446.3L1144.0,441.8M1177.0,446.3L1177.0,436.8M1210.0,446.3L1210.0,441.8M1243.0,446.3L1243.0,436.8M1275.9,446.3L1275.9,441.8M1308.9,446.3L1308.9,436.8M1341.9,446.3L1341.9,441.8M1374.9,446.3L1374.9,436.8M1407.9,446.3L1407.9,441.8M1440.9,446.3L1440.9,436.8M1473.9,446.3L1473.9,441.8M1506.8,446.3L1506.8,436.8M1539.8,446.3L1539.8,441.8M1572.8,446.3L1572.8,436.8M1605.8,446.3L1605.8,441.8M1144.0,812.8L1144.0,808.3M1177.0,812.8L1177.0,803.3M1210.0,812.8L1210.0,808.3M1243.0,812.8L1243.0,803.3M1275.9,812.8L1275.9,808.3M1308.9,812.8L1308.9,803.3M1341.9,812.8L1341.9,808.3M1374.9,812.8L1374.9,803.3M1407.9,812.8L1407.9,808.3M1440.9,812.8L1440.9,803.3M1473.9,812.8L1473.9,808.3M1506.8,812.8L1506.8,803.3M1539.8,812.8L1539.8,808.3M1572.8,812.8L1572.8,803.3M1605.8,812.8L1605.8,808.3M433.3,773.8L438.3,773.8M960.6,773.8L955.6,773.8M433.3,365.0L423.3,365.0M433.3,733.1L442.8,733.1M960.6,733.1L951.1,733.1M433.3,324.4L427.8,324.4M433.3,692.5L438.3,692.5M960.6,692.5L955.6,692.5M433.3,283.7L423.3,283.7M433.3,651.9L442.8,651.9M960.6,651.9L951.1,651.9M433.3,243.1L427.8,243.1M433.3,611.3L438.3,611.3M960.6,611.3L955.6,611.3M433.3,202.5L423.3,202.5M433.3,570.6L442.8,570.6M960.6,570.6L951.1,570.6M433.3,161.8L427.8,161.8M433.3,530.0L438.3,530.0M960.6,530.0L955.6,530.0M433.3,121.2L423.3,121.2M433.3,489.4L442.8,489.4M960.6,489.4L951.1,489.4M1111.0,140.7L1101.0,140.7M1111.0,186.6L1105.5,186.6M1111.0,232.5L1101.0,232.5M1111.0,278.4L1105.5,278.4M1111.0,324.3L1101.0,324.3M1111.0,515.6L1120.5,515.6M1111.0,573.2L1116.0,573.2M1111.0,630.9L1120.5,630.9M1111.0,688.5L1116.0,688.5M1111.0,746.2L1120.5,746.2" fill="none" stroke="#000" stroke-width="1.8"/>
<g font-size="33.3">
<text x="415.5" y="129.4" font-size="33.3" text-anchor="end" fill="#000" textLength="34.3" lengthAdjust="spacingAndGlyphs" >80</text>
<text x="415.5" y="210.7" font-size="33.3" text-anchor="end" fill="#000" textLength="34.3" lengthAdjust="spacingAndGlyphs" >60</text>
<text x="415.5" y="291.9" font-size="33.3" text-anchor="end" fill="#000" textLength="34.3" lengthAdjust="spacingAndGlyphs" >40</text>
<text x="415.5" y="373.2" font-size="33.3" text-anchor="end" fill="#000" textLength="34.3" lengthAdjust="spacingAndGlyphs" >20</text>
<text x="420.5" y="497.0" font-size="33.3" text-anchor="end" fill="#000" textLength="33.5" lengthAdjust="spacingAndGlyphs" >80</text>
<text x="420.5" y="578.2" font-size="33.3" text-anchor="end" fill="#000" textLength="33.5" lengthAdjust="spacingAndGlyphs" >60</text>
<text x="420.5" y="659.5" font-size="33.3" text-anchor="end" fill="#000" textLength="33.5" lengthAdjust="spacingAndGlyphs" >40</text>
<text x="420.5" y="740.8" font-size="33.3" text-anchor="end" fill="#000" textLength="33.5" lengthAdjust="spacingAndGlyphs" >20</text>
<text x="421.0" y="822.8" font-size="33.3" text-anchor="end" fill="#000" textLength="16.8" lengthAdjust="spacingAndGlyphs" >0</text>
<text x="1092.3" y="151.3" font-size="31.3" text-anchor="end" fill="#000" textLength="41.5" lengthAdjust="spacingAndGlyphs" stroke="#fff" stroke-width="0.5" paint-order="fill stroke">0.8</text>
<text x="1092.3" y="243.1" font-size="31.3" text-anchor="end" fill="#000" textLength="41.5" lengthAdjust="spacingAndGlyphs" stroke="#fff" stroke-width="0.5" paint-order="fill stroke">0.5</text>
<text x="1092.3" y="334.9" font-size="31.3" text-anchor="end" fill="#000" textLength="41.5" lengthAdjust="spacingAndGlyphs" stroke="#fff" stroke-width="0.5" paint-order="fill stroke">0.2</text>
<text x="1097.8" y="523.6" font-size="31.3" text-anchor="end" fill="#000" textLength="33.6" lengthAdjust="spacingAndGlyphs" stroke="#fff" stroke-width="0.5" paint-order="fill stroke">25</text>
<text x="1097.8" y="638.9" font-size="31.3" text-anchor="end" fill="#000" textLength="33.6" lengthAdjust="spacingAndGlyphs" stroke="#fff" stroke-width="0.5" paint-order="fill stroke">20</text>
<text x="1097.8" y="754.2" font-size="31.3" text-anchor="end" fill="#000" textLength="33.6" lengthAdjust="spacingAndGlyphs" stroke="#fff" stroke-width="0.5" paint-order="fill stroke">15</text>
<text x="431.8" y="849.5" font-size="33.3" text-anchor="middle" fill="#000" textLength="26.8" lengthAdjust="spacingAndGlyphs" >-8</text>
<text x="497.7" y="849.5" font-size="33.3" text-anchor="middle" fill="#000" textLength="26.8" lengthAdjust="spacingAndGlyphs" >-6</text>
<text x="563.6" y="849.5" font-size="33.3" text-anchor="middle" fill="#000" textLength="26.8" lengthAdjust="spacingAndGlyphs" >-4</text>
<text x="629.5" y="849.5" font-size="33.3" text-anchor="middle" fill="#000" textLength="26.8" lengthAdjust="spacingAndGlyphs" >-2</text>
<text x="697.0" y="849.5" font-size="33.3" text-anchor="middle" fill="#000" textLength="16.8" lengthAdjust="spacingAndGlyphs" >0</text>
<text x="762.9" y="849.5" font-size="33.3" text-anchor="middle" fill="#000" textLength="16.8" lengthAdjust="spacingAndGlyphs" >2</text>
<text x="828.8" y="849.5" font-size="33.3" text-anchor="middle" fill="#000" textLength="16.8" lengthAdjust="spacingAndGlyphs" >4</text>
<text x="894.7" y="849.5" font-size="33.3" text-anchor="middle" fill="#000" textLength="16.8" lengthAdjust="spacingAndGlyphs" >6</text>
<text x="960.6" y="849.5" font-size="33.3" text-anchor="middle" fill="#000" textLength="16.8" lengthAdjust="spacingAndGlyphs" >8</text>
<text x="1109.5" y="848.0" font-size="31.3" text-anchor="middle" fill="#000" textLength="25.2" lengthAdjust="spacingAndGlyphs" stroke="#fff" stroke-width="0.5" paint-order="fill stroke">-8</text>
<text x="1175.5" y="848.0" font-size="31.3" text-anchor="middle" fill="#000" textLength="25.2" lengthAdjust="spacingAndGlyphs" stroke="#fff" stroke-width="0.5" paint-order="fill stroke">-6</text>
<text x="1241.5" y="848.0" font-size="31.3" text-anchor="middle" fill="#000" textLength="25.2" lengthAdjust="spacingAndGlyphs" stroke="#fff" stroke-width="0.5" paint-order="fill stroke">-4</text>
<text x="1307.4" y="848.0" font-size="31.3" text-anchor="middle" fill="#000" textLength="25.2" lengthAdjust="spacingAndGlyphs" stroke="#fff" stroke-width="0.5" paint-order="fill stroke">-2</text>
<text x="1374.9" y="848.0" font-size="31.3" text-anchor="middle" fill="#000" textLength="16.0" lengthAdjust="spacingAndGlyphs" stroke="#fff" stroke-width="0.5" paint-order="fill stroke">0</text>
<text x="1440.9" y="848.0" font-size="31.3" text-anchor="middle" fill="#000" textLength="16.0" lengthAdjust="spacingAndGlyphs" stroke="#fff" stroke-width="0.5" paint-order="fill stroke">2</text>
<text x="1506.8" y="848.0" font-size="31.3" text-anchor="middle" fill="#000" textLength="16.0" lengthAdjust="spacingAndGlyphs" stroke="#fff" stroke-width="0.5" paint-order="fill stroke">4</text>
<text x="1572.8" y="848.0" font-size="31.3" text-anchor="middle" fill="#000" textLength="16.0" lengthAdjust="spacingAndGlyphs" stroke="#fff" stroke-width="0.5" paint-order="fill stroke">6</text>
<text x="1638.8" y="848.0" font-size="31.3" text-anchor="middle" fill="#000" textLength="16.0" lengthAdjust="spacingAndGlyphs" stroke="#fff" stroke-width="0.5" paint-order="fill stroke">8</text>
</g>
<path d="M439.1,55.7L454.6,48.1L454.6,53.4L688.1,53.4L688.1,48.1L703.6,55.7L688.1,63.3L688.1,58.0L454.6,58.0L454.6,63.3Z" fill="#111"/>
<path d="M711.4,55.7L726.9,48.1L726.9,53.4L940.3,53.4L940.3,48.1L955.8,55.7L940.3,63.3L940.3,58.0L726.9,58.0L726.9,63.3Z" fill="#111"/>
<path d="M1116.8,55.7L1132.3,48.1L1132.3,53.4L1366.3,53.4L1366.3,48.1L1381.8,55.7L1366.3,63.3L1366.3,58.0L1132.3,58.0L1132.3,63.3Z" fill="#111"/>
<path d="M1391.5,55.7L1407.0,48.1L1407.0,53.4L1619.9,53.4L1619.9,48.1L1635.4,55.7L1619.9,63.3L1619.9,58.0L1407.0,58.0L1407.0,63.3Z" fill="#111"/>
<text x="570.8" y="34.6" font-size="47" text-anchor="middle" fill="#111" textLength="140.5" lengthAdjust="spacingAndGlyphs" >γ-UMo</text>
<text x="834.6" y="36.2" font-size="47" text-anchor="middle" fill="#111" textLength="64.5" lengthAdjust="spacingAndGlyphs" >UC</text>
<text x="1245.9" y="36.4" font-size="47" text-anchor="middle" fill="#111" textLength="140.5" lengthAdjust="spacingAndGlyphs" >γ-UMo</text>
<text x="1507.3" y="34.4" font-size="47" text-anchor="middle" fill="#111" textLength="64.5" lengthAdjust="spacingAndGlyphs" >UC</text>
<text transform="translate(356.2,469.0) rotate(-90)" font-size="49" text-anchor="middle" textLength="446" lengthAdjust="spacingAndGlyphs">Concentration (at%)</text>
<text transform="translate(1035.6,468.0) rotate(-90)" font-size="49.5" text-anchor="middle" textLength="444" lengthAdjust="spacingAndGlyphs"><tspan font-size="33" dy="-18.5">235</tspan><tspan dy="18.5">U Enrichment (%)</tspan></text>
<text x="1042.0" y="921.2" font-size="50.2" text-anchor="middle" fill="#000" textLength="311.0" lengthAdjust="spacingAndGlyphs" >Distance (nm)</text>
<g stroke-width="1.7" fill="none"><path d="M533,121H601.5" stroke="#0000ff"/><path d="M564.6,122L567.3,118.3L570,122Z" fill="#0000ff" stroke="#0000ff" stroke-width="0.8"/><path d="M639,121H708.3" stroke="#008000"/><path d="M671,122L673.6,118.3L676.2,122Z" fill="#008000" stroke="#008000" stroke-width="0.8"/><path d="M768.4,121H837.3" stroke="#ff0000"/><circle cx="803" cy="121" r="2.8" fill="#ff0000" stroke="none"/></g>
<text x="611.8" y="130.6" font-size="33" text-anchor="start" fill="#000" textLength="22.0" lengthAdjust="spacingAndGlyphs" >U</text>
<text x="717.6" y="130.6" font-size="33" text-anchor="start" fill="#000" textLength="44.0" lengthAdjust="spacingAndGlyphs" >Mo</text>
<text x="846.0" y="130.6" font-size="33" text-anchor="start" fill="#000" textLength="23.0" lengthAdjust="spacingAndGlyphs" >C</text>
<text x="9.0" y="120.0" font-size="69" text-anchor="start" fill="#1c1c1c" >a</text>
<text x="904.0" y="135.6" font-size="69" text-anchor="start" fill="#1c1c1c" >b</text>
<text x="1585.0" y="135.6" font-size="69" text-anchor="start" fill="#1c1c1c" >c</text>
<text x="9.0" y="585.3" font-size="69" text-anchor="start" fill="#1c1c1c" >d</text>
<text x="904.0" y="508.5" font-size="69" text-anchor="start" fill="#1c1c1c" >e</text>
<text x="1594.5" y="508.8" font-size="69" text-anchor="start" fill="#1c1c1c" >f</text>
<text x="49.0" y="467.0" font-size="42.5" text-anchor="start" fill="#000" textLength="114.5" lengthAdjust="spacingAndGlyphs" >20 nm</text>
<rect x="172" y="449.8" width="95.3" height="17.2" fill="#222"/>
<text x="60.8" y="847.4" font-size="41.5" text-anchor="start" fill="#000" textLength="114.5" lengthAdjust="spacingAndGlyphs" >25 nm</text>
<rect x="179.6" y="828.4" width="108.7" height="16.8" fill="#222"/>
</svg></body></html>
